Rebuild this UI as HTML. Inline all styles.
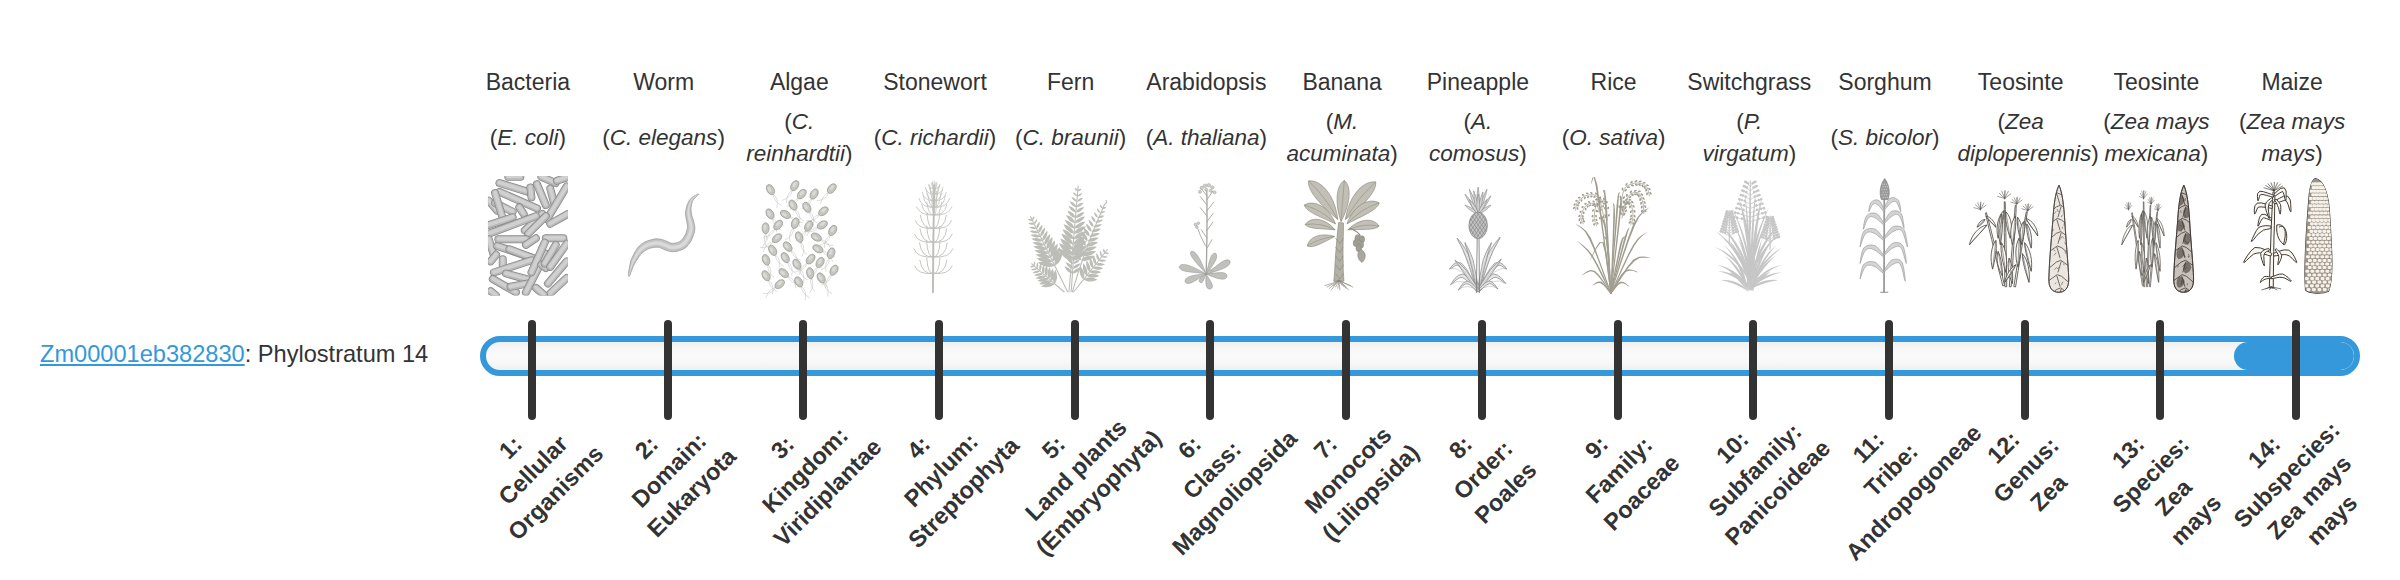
<!DOCTYPE html><html><head><meta charset="utf-8"><style>
*{margin:0;padding:0;box-sizing:border-box}
html,body{width:2400px;height:580px;background:#fff;overflow:hidden}
body{font-family:"Liberation Sans",sans-serif;color:#333;position:relative}
.cm{position:absolute;top:66px;width:200px;text-align:center;font-size:23px;line-height:32px;white-space:nowrap}
.sp{position:absolute;width:200px;text-align:center;font-size:22.5px;line-height:32px;white-space:nowrap}
.sp i{font-style:italic}
.ic{position:absolute;top:176px;width:80px;height:120px}
.bar{position:absolute;left:480px;top:336px;width:1880px;height:40px;border:6px solid #3498db;border-radius:20px;overflow:hidden;background:linear-gradient(#f0f0f0,#f7f7f7 25%,#fafafa 50%,#f7f7f7 75%,#f0f0f0)}
.fill{position:absolute;left:1748px;top:0;width:120px;height:28px;border-radius:14px;background:#3498db}
.tk{position:absolute;top:320px;width:8px;height:100px;border-radius:4px;background:#333}
.gene{position:absolute;left:40px;top:337.8px;font-size:23.6px;line-height:32px;white-space:nowrap}
.gene a{color:#3498db;text-decoration:underline}
.lb{position:absolute;width:200px;text-align:center;font-weight:bold;font-size:23.5px;line-height:32px;white-space:nowrap;transform:rotate(-45deg);transform-origin:50% 50%}
</style></head><body>
<div class="cm" style="left:427.9px">Bacteria</div>
<div class="cm" style="left:563.6px">Worm</div>
<div class="cm" style="left:699.3px">Algae</div>
<div class="cm" style="left:835.0px">Stonewort</div>
<div class="cm" style="left:970.7px">Fern</div>
<div class="cm" style="left:1106.4px">Arabidopsis</div>
<div class="cm" style="left:1242.1px">Banana</div>
<div class="cm" style="left:1377.9px">Pineapple</div>
<div class="cm" style="left:1513.6px">Rice</div>
<div class="cm" style="left:1649.3px">Switchgrass</div>
<div class="cm" style="left:1785.0px">Sorghum</div>
<div class="cm" style="left:1920.7px">Teosinte</div>
<div class="cm" style="left:2056.4px">Teosinte</div>
<div class="cm" style="left:2192.1px">Maize</div>
<div class="sp" style="left:427.9px;top:122px">(<i>E. coli</i>)</div>
<div class="sp" style="left:563.6px;top:122px">(<i>C. elegans</i>)</div>
<div class="sp" style="left:699.3px;top:106px">(<i>C.</i><br><i>reinhardtii</i>)</div>
<div class="sp" style="left:835.0px;top:122px">(<i>C. richardii</i>)</div>
<div class="sp" style="left:970.7px;top:122px">(<i>C. braunii</i>)</div>
<div class="sp" style="left:1106.4px;top:122px">(<i>A. thaliana</i>)</div>
<div class="sp" style="left:1242.1px;top:106px">(<i>M.</i><br><i>acuminata</i>)</div>
<div class="sp" style="left:1377.9px;top:106px">(<i>A.</i><br><i>comosus</i>)</div>
<div class="sp" style="left:1513.6px;top:122px">(<i>O. sativa</i>)</div>
<div class="sp" style="left:1649.3px;top:106px">(<i>P.</i><br><i>virgatum</i>)</div>
<div class="sp" style="left:1785.0px;top:122px">(<i>S. bicolor</i>)</div>
<div class="sp" style="left:1920.7px;top:106px">(<i>Zea</i></div>
<div class="sp" style="left:1957.5px;top:138px;text-align:left"><i>diploperennis</i>)</div>
<div class="sp" style="left:2056.4px;top:106px">(<i>Zea mays</i><br><i>mexicana</i>)</div>
<div class="sp" style="left:2192.1px;top:106px">(<i>Zea mays</i><br><i>mays</i>)</div>
<svg style="position:absolute;left:0;top:0" width="2400" height="580"><g transform="translate(484 172) scale(0.220690)"><defs><clipPath id="bc"><rect x="18" y="18" width="362" height="542"/></clipPath></defs><g clip-path="url(#bc)"><line x1="110" y1="22" x2="165" y2="22" stroke="#8a8a8a" stroke-width="36" stroke-linecap="round"/><line x1="110" y1="22" x2="165" y2="22" stroke="#b9b9b9" stroke-width="29" stroke-linecap="round"/><line x1="110" y1="20" x2="165" y2="20" stroke="#d0d0d0" stroke-width="17" stroke-linecap="round"/><line x1="260" y1="22" x2="325" y2="50" stroke="#8a8a8a" stroke-width="36" stroke-linecap="round"/><line x1="260" y1="22" x2="325" y2="50" stroke="#b9b9b9" stroke-width="29" stroke-linecap="round"/><line x1="260" y1="20" x2="325" y2="48" stroke="#d0d0d0" stroke-width="17" stroke-linecap="round"/><line x1="330" y1="40" x2="375" y2="25" stroke="#8a8a8a" stroke-width="36" stroke-linecap="round"/><line x1="330" y1="40" x2="375" y2="25" stroke="#b9b9b9" stroke-width="29" stroke-linecap="round"/><line x1="330" y1="38" x2="375" y2="23" stroke="#d0d0d0" stroke-width="17" stroke-linecap="round"/><line x1="22" y1="130" x2="60" y2="175" stroke="#8a8a8a" stroke-width="36" stroke-linecap="round"/><line x1="22" y1="130" x2="60" y2="175" stroke="#b9b9b9" stroke-width="29" stroke-linecap="round"/><line x1="22" y1="128" x2="60" y2="173" stroke="#d0d0d0" stroke-width="17" stroke-linecap="round"/><line x1="50" y1="140" x2="130" y2="180" stroke="#8a8a8a" stroke-width="36" stroke-linecap="round"/><line x1="50" y1="140" x2="130" y2="180" stroke="#b9b9b9" stroke-width="29" stroke-linecap="round"/><line x1="50" y1="138" x2="130" y2="178" stroke="#d0d0d0" stroke-width="17" stroke-linecap="round"/><line x1="70" y1="50" x2="200" y2="90" stroke="#8a8a8a" stroke-width="36" stroke-linecap="round"/><line x1="70" y1="50" x2="200" y2="90" stroke="#b9b9b9" stroke-width="29" stroke-linecap="round"/><line x1="70" y1="48" x2="200" y2="88" stroke="#d0d0d0" stroke-width="17" stroke-linecap="round"/><line x1="210" y1="70" x2="215" y2="115" stroke="#8a8a8a" stroke-width="36" stroke-linecap="round"/><line x1="210" y1="70" x2="215" y2="115" stroke="#b9b9b9" stroke-width="29" stroke-linecap="round"/><line x1="210" y1="68" x2="215" y2="113" stroke="#d0d0d0" stroke-width="17" stroke-linecap="round"/><line x1="70" y1="90" x2="240" y2="165" stroke="#8a8a8a" stroke-width="36" stroke-linecap="round"/><line x1="70" y1="90" x2="240" y2="165" stroke="#b9b9b9" stroke-width="29" stroke-linecap="round"/><line x1="70" y1="88" x2="240" y2="163" stroke="#d0d0d0" stroke-width="17" stroke-linecap="round"/><line x1="50" y1="95" x2="85" y2="210" stroke="#8a8a8a" stroke-width="36" stroke-linecap="round"/><line x1="50" y1="95" x2="85" y2="210" stroke="#b9b9b9" stroke-width="29" stroke-linecap="round"/><line x1="50" y1="93" x2="85" y2="208" stroke="#d0d0d0" stroke-width="17" stroke-linecap="round"/><line x1="240" y1="55" x2="280" y2="150" stroke="#8a8a8a" stroke-width="36" stroke-linecap="round"/><line x1="240" y1="55" x2="280" y2="150" stroke="#b9b9b9" stroke-width="29" stroke-linecap="round"/><line x1="240" y1="53" x2="280" y2="148" stroke="#d0d0d0" stroke-width="17" stroke-linecap="round"/><line x1="300" y1="75" x2="320" y2="150" stroke="#8a8a8a" stroke-width="36" stroke-linecap="round"/><line x1="300" y1="75" x2="320" y2="150" stroke="#b9b9b9" stroke-width="29" stroke-linecap="round"/><line x1="300" y1="73" x2="320" y2="148" stroke="#d0d0d0" stroke-width="17" stroke-linecap="round"/><line x1="160" y1="160" x2="180" y2="190" stroke="#8a8a8a" stroke-width="36" stroke-linecap="round"/><line x1="160" y1="160" x2="180" y2="190" stroke="#b9b9b9" stroke-width="29" stroke-linecap="round"/><line x1="160" y1="158" x2="180" y2="188" stroke="#d0d0d0" stroke-width="17" stroke-linecap="round"/><line x1="285" y1="215" x2="375" y2="65" stroke="#8a8a8a" stroke-width="36" stroke-linecap="round"/><line x1="285" y1="215" x2="375" y2="65" stroke="#b9b9b9" stroke-width="29" stroke-linecap="round"/><line x1="285" y1="213" x2="375" y2="63" stroke="#d0d0d0" stroke-width="17" stroke-linecap="round"/><line x1="185" y1="265" x2="265" y2="190" stroke="#8a8a8a" stroke-width="36" stroke-linecap="round"/><line x1="185" y1="265" x2="265" y2="190" stroke="#b9b9b9" stroke-width="29" stroke-linecap="round"/><line x1="185" y1="263" x2="265" y2="188" stroke="#d0d0d0" stroke-width="17" stroke-linecap="round"/><line x1="200" y1="280" x2="280" y2="200" stroke="#8a8a8a" stroke-width="36" stroke-linecap="round"/><line x1="200" y1="280" x2="280" y2="200" stroke="#b9b9b9" stroke-width="29" stroke-linecap="round"/><line x1="200" y1="278" x2="280" y2="198" stroke="#d0d0d0" stroke-width="17" stroke-linecap="round"/><line x1="22" y1="240" x2="130" y2="205" stroke="#8a8a8a" stroke-width="36" stroke-linecap="round"/><line x1="22" y1="240" x2="130" y2="205" stroke="#b9b9b9" stroke-width="29" stroke-linecap="round"/><line x1="22" y1="238" x2="130" y2="203" stroke="#d0d0d0" stroke-width="17" stroke-linecap="round"/><line x1="22" y1="280" x2="235" y2="200" stroke="#8a8a8a" stroke-width="36" stroke-linecap="round"/><line x1="22" y1="280" x2="235" y2="200" stroke="#b9b9b9" stroke-width="29" stroke-linecap="round"/><line x1="22" y1="278" x2="235" y2="198" stroke="#d0d0d0" stroke-width="17" stroke-linecap="round"/><line x1="300" y1="235" x2="380" y2="190" stroke="#8a8a8a" stroke-width="36" stroke-linecap="round"/><line x1="300" y1="235" x2="380" y2="190" stroke="#b9b9b9" stroke-width="29" stroke-linecap="round"/><line x1="300" y1="233" x2="380" y2="188" stroke="#d0d0d0" stroke-width="17" stroke-linecap="round"/><line x1="280" y1="300" x2="360" y2="300" stroke="#8a8a8a" stroke-width="36" stroke-linecap="round"/><line x1="280" y1="300" x2="360" y2="300" stroke="#b9b9b9" stroke-width="29" stroke-linecap="round"/><line x1="280" y1="298" x2="360" y2="298" stroke="#d0d0d0" stroke-width="17" stroke-linecap="round"/><line x1="22" y1="305" x2="45" y2="380" stroke="#8a8a8a" stroke-width="36" stroke-linecap="round"/><line x1="22" y1="305" x2="45" y2="380" stroke="#b9b9b9" stroke-width="29" stroke-linecap="round"/><line x1="22" y1="303" x2="45" y2="378" stroke="#d0d0d0" stroke-width="17" stroke-linecap="round"/><line x1="60" y1="335" x2="220" y2="390" stroke="#8a8a8a" stroke-width="36" stroke-linecap="round"/><line x1="60" y1="335" x2="220" y2="390" stroke="#b9b9b9" stroke-width="29" stroke-linecap="round"/><line x1="60" y1="333" x2="220" y2="388" stroke="#d0d0d0" stroke-width="17" stroke-linecap="round"/><line x1="115" y1="350" x2="220" y2="390" stroke="#8a8a8a" stroke-width="36" stroke-linecap="round"/><line x1="115" y1="350" x2="220" y2="390" stroke="#b9b9b9" stroke-width="29" stroke-linecap="round"/><line x1="115" y1="348" x2="220" y2="388" stroke="#d0d0d0" stroke-width="17" stroke-linecap="round"/><line x1="65" y1="305" x2="190" y2="305" stroke="#8a8a8a" stroke-width="36" stroke-linecap="round"/><line x1="65" y1="305" x2="190" y2="305" stroke="#b9b9b9" stroke-width="29" stroke-linecap="round"/><line x1="65" y1="303" x2="190" y2="303" stroke="#d0d0d0" stroke-width="17" stroke-linecap="round"/><line x1="30" y1="405" x2="55" y2="375" stroke="#8a8a8a" stroke-width="36" stroke-linecap="round"/><line x1="30" y1="405" x2="55" y2="375" stroke="#b9b9b9" stroke-width="29" stroke-linecap="round"/><line x1="30" y1="403" x2="55" y2="373" stroke="#d0d0d0" stroke-width="17" stroke-linecap="round"/><line x1="85" y1="395" x2="85" y2="430" stroke="#8a8a8a" stroke-width="36" stroke-linecap="round"/><line x1="85" y1="395" x2="85" y2="430" stroke="#b9b9b9" stroke-width="29" stroke-linecap="round"/><line x1="85" y1="393" x2="85" y2="428" stroke="#d0d0d0" stroke-width="17" stroke-linecap="round"/><line x1="45" y1="455" x2="215" y2="400" stroke="#8a8a8a" stroke-width="36" stroke-linecap="round"/><line x1="45" y1="455" x2="215" y2="400" stroke="#b9b9b9" stroke-width="29" stroke-linecap="round"/><line x1="45" y1="453" x2="215" y2="398" stroke="#d0d0d0" stroke-width="17" stroke-linecap="round"/><line x1="100" y1="460" x2="210" y2="490" stroke="#8a8a8a" stroke-width="36" stroke-linecap="round"/><line x1="100" y1="460" x2="210" y2="490" stroke="#b9b9b9" stroke-width="29" stroke-linecap="round"/><line x1="100" y1="458" x2="210" y2="488" stroke="#d0d0d0" stroke-width="17" stroke-linecap="round"/><line x1="40" y1="485" x2="145" y2="545" stroke="#8a8a8a" stroke-width="36" stroke-linecap="round"/><line x1="40" y1="485" x2="145" y2="545" stroke="#b9b9b9" stroke-width="29" stroke-linecap="round"/><line x1="40" y1="483" x2="145" y2="543" stroke="#d0d0d0" stroke-width="17" stroke-linecap="round"/><line x1="120" y1="520" x2="200" y2="505" stroke="#8a8a8a" stroke-width="36" stroke-linecap="round"/><line x1="120" y1="520" x2="200" y2="505" stroke="#b9b9b9" stroke-width="29" stroke-linecap="round"/><line x1="120" y1="518" x2="200" y2="503" stroke="#d0d0d0" stroke-width="17" stroke-linecap="round"/><line x1="190" y1="545" x2="280" y2="370" stroke="#8a8a8a" stroke-width="36" stroke-linecap="round"/><line x1="190" y1="545" x2="280" y2="370" stroke="#b9b9b9" stroke-width="29" stroke-linecap="round"/><line x1="190" y1="543" x2="280" y2="368" stroke="#d0d0d0" stroke-width="17" stroke-linecap="round"/><line x1="215" y1="455" x2="275" y2="320" stroke="#8a8a8a" stroke-width="36" stroke-linecap="round"/><line x1="215" y1="455" x2="275" y2="320" stroke="#b9b9b9" stroke-width="29" stroke-linecap="round"/><line x1="215" y1="453" x2="275" y2="318" stroke="#d0d0d0" stroke-width="17" stroke-linecap="round"/><line x1="260" y1="420" x2="280" y2="435" stroke="#8a8a8a" stroke-width="36" stroke-linecap="round"/><line x1="260" y1="420" x2="280" y2="435" stroke="#b9b9b9" stroke-width="29" stroke-linecap="round"/><line x1="260" y1="418" x2="280" y2="433" stroke="#d0d0d0" stroke-width="17" stroke-linecap="round"/><line x1="275" y1="415" x2="325" y2="330" stroke="#8a8a8a" stroke-width="36" stroke-linecap="round"/><line x1="275" y1="415" x2="325" y2="330" stroke="#b9b9b9" stroke-width="29" stroke-linecap="round"/><line x1="275" y1="413" x2="325" y2="328" stroke="#d0d0d0" stroke-width="17" stroke-linecap="round"/><line x1="190" y1="330" x2="235" y2="300" stroke="#8a8a8a" stroke-width="36" stroke-linecap="round"/><line x1="190" y1="330" x2="235" y2="300" stroke="#b9b9b9" stroke-width="29" stroke-linecap="round"/><line x1="190" y1="328" x2="235" y2="298" stroke="#d0d0d0" stroke-width="17" stroke-linecap="round"/><line x1="300" y1="430" x2="375" y2="325" stroke="#8a8a8a" stroke-width="36" stroke-linecap="round"/><line x1="300" y1="430" x2="375" y2="325" stroke="#b9b9b9" stroke-width="29" stroke-linecap="round"/><line x1="300" y1="428" x2="375" y2="323" stroke="#d0d0d0" stroke-width="17" stroke-linecap="round"/><line x1="290" y1="505" x2="375" y2="405" stroke="#8a8a8a" stroke-width="36" stroke-linecap="round"/><line x1="290" y1="505" x2="375" y2="405" stroke="#b9b9b9" stroke-width="29" stroke-linecap="round"/><line x1="290" y1="503" x2="375" y2="403" stroke="#d0d0d0" stroke-width="17" stroke-linecap="round"/><line x1="300" y1="550" x2="375" y2="480" stroke="#8a8a8a" stroke-width="36" stroke-linecap="round"/><line x1="300" y1="550" x2="375" y2="480" stroke="#b9b9b9" stroke-width="29" stroke-linecap="round"/><line x1="300" y1="548" x2="375" y2="478" stroke="#d0d0d0" stroke-width="17" stroke-linecap="round"/><line x1="235" y1="525" x2="270" y2="555" stroke="#8a8a8a" stroke-width="36" stroke-linecap="round"/><line x1="235" y1="525" x2="270" y2="555" stroke="#b9b9b9" stroke-width="29" stroke-linecap="round"/><line x1="235" y1="523" x2="270" y2="553" stroke="#d0d0d0" stroke-width="17" stroke-linecap="round"/><line x1="30" y1="540" x2="55" y2="560" stroke="#8a8a8a" stroke-width="36" stroke-linecap="round"/><line x1="30" y1="540" x2="55" y2="560" stroke="#b9b9b9" stroke-width="29" stroke-linecap="round"/><line x1="30" y1="538" x2="55" y2="558" stroke="#d0d0d0" stroke-width="17" stroke-linecap="round"/></g></g><g transform="translate(620 172) scale(0.220690)"><path d="M42 473 L44 469 L47 463 L49 456 L52 449 L55 441 L58 433 L61 425 L65 418 L68 411 L72 405 L76 399 L80 393 L84 387 L88 381 L92 376 L97 371 L101 366 L106 362 L110 359 L115 356 L120 353 L125 350 L130 348 L135 346 L141 344 L147 343 L153 342 L159 341 L164 341 L170 341 L174 341 L179 342 L184 344 L191 347 L197 350 L204 353 L212 356 L220 358 L229 360 L237 361 L245 361 L252 360 L260 359 L267 357 L274 355 L281 352 L287 349 L294 345 L300 341 L305 335 L311 329 L315 323 L320 316 L324 309 L327 301 L331 293 L333 285 L336 277 L338 268 L339 260 L339 251 L338 242 L336 233 L334 225 L332 217 L329 210 L327 203 L325 196 L324 190 L323 185 L323 179 L322 173 L322 168 L322 162 L323 157 L324 152 L324 147 L325 142 L327 138 L328 133 L330 130 L332 126 L335 122 L339 118 L342 115 L346 111 L349 108 L352 105 L355 103 L357 101 L355 99 L353 100 L350 102 L346 104 L342 106 L337 108 L333 111 L328 114 L324 118 L320 122 L316 127 L313 131 L310 136 L308 141 L305 147 L303 153 L302 159 L300 165 L299 171 L298 178 L297 185 L297 193 L298 201 L299 209 L301 217 L303 225 L304 232 L305 239 L306 245 L306 251 L305 256 L304 261 L302 267 L300 274 L298 280 L295 286 L292 291 L288 297 L285 301 L282 305 L279 309 L276 311 L272 314 L269 316 L265 318 L261 319 L257 321 L252 322 L248 322 L243 323 L239 323 L235 323 L230 322 L225 320 L219 317 L212 314 L205 311 L197 308 L189 306 L180 304 L170 303 L162 303 L154 304 L146 306 L138 308 L131 310 L123 313 L116 316 L109 319 L102 324 L95 328 L89 334 L83 340 L78 346 L74 353 L69 360 L65 367 L62 374 L58 381 L55 388 L52 395 L49 403 L47 412 L45 420 L43 429 L42 438 L40 446 L39 454 L39 461 L38 467 L38 471Z" fill="#c3c3c3" stroke="#8f8f8f" stroke-width="3"/><path d="M40 472 L42 468 L44 462 L46 456 L48 448 L50 440 L53 432 L56 424 L59 416 L62 408 L66 402 L69 395 L73 389 L77 383 L81 377 L85 371 L90 365 L94 360 L99 355 L104 351 L109 348 L114 344 L120 341 L126 339 L132 336 L138 334 L144 333 L151 331 L157 331 L164 330 L170 330 L176 330 L182 332 L188 334 L195 336 L202 339 L209 342 L216 345 L223 348 L230 349 L238 350 L245 350 L251 349 L258 348 L264 347 L270 345 L276 342 L282 339 L287 336 L293 332 L298 328 L302 322 L307 317 L311 310 L314 304 L318 297 L321 289 L324 282 L326 274 L328 266 L329 259 L329 251 L328 243 L327 235 L325 227 L323 219 L321 212 L319 205 L317 198 L316 191 L315 185 L315 179 L315 173 L315 167 L316 161 L317 156 L318 150 L319 145 L321 140 L322 136 L324 131 L327 127 L329 123 L333 120 L337 116 L341 113 L345 110 L348 107 L352 104 L354 102 L356 100 L356 100 L353 101 L351 103 L347 105 L343 108 L339 110 L335 113 L330 117 L326 121 L323 124 L320 129 L317 133 L315 138 L313 143 L311 148 L309 154 L308 160 L307 166 L306 172 L305 178 L305 185 L305 192 L306 200 L308 207 L309 215 L311 222 L313 230 L314 237 L315 244 L316 251 L315 257 L314 264 L312 270 L310 277 L307 284 L304 290 L301 296 L298 302 L294 308 L290 312 L286 316 L283 320 L278 323 L274 325 L270 328 L265 330 L260 331 L254 332 L249 333 L244 334 L238 334 L233 334 L227 332 L221 330 L215 328 L208 325 L201 322 L193 319 L186 316 L178 315 L170 314 L163 314 L156 315 L148 316 L141 318 L134 320 L127 322 L120 325 L113 329 L107 332 L101 336 L95 341 L90 346 L85 352 L81 358 L76 365 L72 371 L68 378 L65 385 L62 391 L58 398 L55 406 L53 414 L50 422 L48 431 L46 439 L44 447 L43 455 L41 462 L40 467 L40 472Z" fill="#dadada"/></g><g transform="translate(755 172) scale(0.220690)"><g stroke="#b4b4b0" stroke-width="2" fill="none"><path d="M81 99 Q85 134 120 152 M81 99 Q109 120 99 164"/><path d="M169 81 Q141 102 143 141 M169 81 Q165 116 122 129"/><path d="M198 117 Q166 133 161 171 M198 117 Q188 151 143 156"/><path d="M257 119 Q229 140 231 179 M257 119 Q253 154 210 167"/><path d="M334 92 Q302 108 297 146 M334 92 Q324 126 279 131"/><path d="M79 209 Q83 244 118 262 M79 209 Q107 230 97 274"/><path d="M183 169 Q187 204 222 222 M183 169 Q211 190 201 234"/><path d="M157 203 Q178 231 217 229 M157 203 Q192 207 205 250"/><path d="M246 179 Q250 214 285 232 M246 179 Q274 200 264 244"/><path d="M293 192 Q259 202 248 239 M293 192 Q277 224 233 221"/><path d="M48 277 Q34 310 55 342 M48 277 Q62 310 31 342"/><path d="M91 257 Q59 273 54 311 M91 257 Q81 291 36 296"/><path d="M174 253 Q150 278 159 316 M174 253 Q177 288 136 308"/><path d="M232 264 Q204 285 206 324 M232 264 Q228 299 185 312"/><path d="M286 251 Q251 255 233 290 M286 251 Q265 279 221 269"/><path d="M341 284 Q313 305 315 344 M341 284 Q337 319 294 332"/><path d="M83 314 Q49 324 38 361 M83 314 Q67 346 23 343"/><path d="M208 316 Q205 351 236 374 M208 316 Q232 341 214 382"/><path d="M297 306 Q318 334 357 332 M297 306 Q332 310 345 353"/><path d="M91 374 Q95 409 130 427 M91 374 Q119 395 109 439"/><path d="M162 355 Q172 389 209 400 M162 355 Q194 371 191 415"/><path d="M304 359 Q325 387 364 385 M304 359 Q339 363 352 406"/><path d="M337 389 Q313 414 322 452 M337 389 Q340 424 299 444"/><path d="M58 419 Q55 454 86 477 M58 419 Q82 444 64 485"/><path d="M148 407 Q152 442 187 460 M148 407 Q176 428 166 472"/><path d="M201 437 Q205 472 240 490 M201 437 Q229 458 219 502"/><path d="M238 412 Q206 428 201 466 M238 412 Q228 446 183 451"/><path d="M284 429 Q256 450 258 489 M284 429 Q280 464 237 477"/><path d="M347 464 Q319 485 321 524 M347 464 Q343 499 300 512"/><path d="M61 489 Q65 524 100 542 M61 489 Q89 510 79 554"/><path d="M147 472 Q163 504 201 509 M147 472 Q181 482 186 527"/><path d="M254 480 Q246 514 272 542 M254 480 Q273 509 249 547"/><path d="M311 499 Q315 534 350 552 M311 499 Q339 520 329 564"/><path d="M95 522 Q61 532 50 569 M95 522 Q79 554 35 551"/><path d="M209 517 Q213 552 248 570 M209 517 Q237 538 227 582"/></g><ellipse cx="70" cy="80" rx="16" ry="25" transform="rotate(-30 70 80)" fill="#c6c6c1" stroke="#94948f" stroke-width="3"/><ellipse cx="67" cy="76" rx="7" ry="13" transform="rotate(-30 70 80)" fill="#dadad6"/><ellipse cx="180" cy="62" rx="16" ry="25" transform="rotate(30 180 62)" fill="#c6c6c1" stroke="#94948f" stroke-width="3"/><ellipse cx="177" cy="58" rx="7" ry="13" transform="rotate(30 180 62)" fill="#dadad6"/><ellipse cx="212" cy="100" rx="16" ry="25" transform="rotate(40 212 100)" fill="#c6c6c1" stroke="#94948f" stroke-width="3"/><ellipse cx="209" cy="96" rx="7" ry="13" transform="rotate(40 212 100)" fill="#dadad6"/><ellipse cx="268" cy="100" rx="16" ry="25" transform="rotate(30 268 100)" fill="#c6c6c1" stroke="#94948f" stroke-width="3"/><ellipse cx="265" cy="96" rx="7" ry="13" transform="rotate(30 268 100)" fill="#dadad6"/><ellipse cx="348" cy="75" rx="16" ry="25" transform="rotate(40 348 75)" fill="#c6c6c1" stroke="#94948f" stroke-width="3"/><ellipse cx="345" cy="71" rx="7" ry="13" transform="rotate(40 348 75)" fill="#dadad6"/><ellipse cx="68" cy="190" rx="16" ry="25" transform="rotate(-30 68 190)" fill="#c6c6c1" stroke="#94948f" stroke-width="3"/><ellipse cx="65" cy="186" rx="7" ry="13" transform="rotate(-30 68 190)" fill="#dadad6"/><ellipse cx="172" cy="150" rx="16" ry="25" transform="rotate(-30 172 150)" fill="#c6c6c1" stroke="#94948f" stroke-width="3"/><ellipse cx="169" cy="146" rx="7" ry="13" transform="rotate(-30 172 150)" fill="#dadad6"/><ellipse cx="138" cy="192" rx="16" ry="25" transform="rotate(-60 138 192)" fill="#c6c6c1" stroke="#94948f" stroke-width="3"/><ellipse cx="135" cy="188" rx="7" ry="13" transform="rotate(-60 138 192)" fill="#dadad6"/><ellipse cx="235" cy="160" rx="16" ry="25" transform="rotate(-30 235 160)" fill="#c6c6c1" stroke="#94948f" stroke-width="3"/><ellipse cx="232" cy="156" rx="7" ry="13" transform="rotate(-30 235 160)" fill="#dadad6"/><ellipse cx="310" cy="178" rx="16" ry="25" transform="rotate(50 310 178)" fill="#c6c6c1" stroke="#94948f" stroke-width="3"/><ellipse cx="307" cy="174" rx="7" ry="13" transform="rotate(50 310 178)" fill="#dadad6"/><ellipse cx="48" cy="255" rx="16" ry="25" transform="rotate(0 48 255)" fill="#c6c6c1" stroke="#94948f" stroke-width="3"/><ellipse cx="45" cy="251" rx="7" ry="13" transform="rotate(0 48 255)" fill="#dadad6"/><ellipse cx="105" cy="240" rx="16" ry="25" transform="rotate(40 105 240)" fill="#c6c6c1" stroke="#94948f" stroke-width="3"/><ellipse cx="102" cy="236" rx="7" ry="13" transform="rotate(40 105 240)" fill="#dadad6"/><ellipse cx="182" cy="232" rx="16" ry="25" transform="rotate(20 182 232)" fill="#c6c6c1" stroke="#94948f" stroke-width="3"/><ellipse cx="179" cy="228" rx="7" ry="13" transform="rotate(20 182 232)" fill="#dadad6"/><ellipse cx="243" cy="245" rx="16" ry="25" transform="rotate(30 243 245)" fill="#c6c6c1" stroke="#94948f" stroke-width="3"/><ellipse cx="240" cy="241" rx="7" ry="13" transform="rotate(30 243 245)" fill="#dadad6"/><ellipse cx="305" cy="240" rx="16" ry="25" transform="rotate(60 305 240)" fill="#c6c6c1" stroke="#94948f" stroke-width="3"/><ellipse cx="302" cy="236" rx="7" ry="13" transform="rotate(60 305 240)" fill="#dadad6"/><ellipse cx="352" cy="265" rx="16" ry="25" transform="rotate(30 352 265)" fill="#c6c6c1" stroke="#94948f" stroke-width="3"/><ellipse cx="349" cy="261" rx="7" ry="13" transform="rotate(30 352 265)" fill="#dadad6"/><ellipse cx="100" cy="300" rx="16" ry="25" transform="rotate(50 100 300)" fill="#c6c6c1" stroke="#94948f" stroke-width="3"/><ellipse cx="97" cy="296" rx="7" ry="13" transform="rotate(50 100 300)" fill="#dadad6"/><ellipse cx="200" cy="295" rx="16" ry="25" transform="rotate(-20 200 295)" fill="#c6c6c1" stroke="#94948f" stroke-width="3"/><ellipse cx="197" cy="291" rx="7" ry="13" transform="rotate(-20 200 295)" fill="#dadad6"/><ellipse cx="278" cy="295" rx="16" ry="25" transform="rotate(-60 278 295)" fill="#c6c6c1" stroke="#94948f" stroke-width="3"/><ellipse cx="275" cy="291" rx="7" ry="13" transform="rotate(-60 278 295)" fill="#dadad6"/><ellipse cx="80" cy="355" rx="16" ry="25" transform="rotate(-30 80 355)" fill="#c6c6c1" stroke="#94948f" stroke-width="3"/><ellipse cx="77" cy="351" rx="7" ry="13" transform="rotate(-30 80 355)" fill="#dadad6"/><ellipse cx="148" cy="338" rx="16" ry="25" transform="rotate(-40 148 338)" fill="#c6c6c1" stroke="#94948f" stroke-width="3"/><ellipse cx="145" cy="334" rx="7" ry="13" transform="rotate(-40 148 338)" fill="#dadad6"/><ellipse cx="285" cy="348" rx="16" ry="25" transform="rotate(-60 285 348)" fill="#c6c6c1" stroke="#94948f" stroke-width="3"/><ellipse cx="282" cy="344" rx="7" ry="13" transform="rotate(-60 285 348)" fill="#dadad6"/><ellipse cx="345" cy="368" rx="16" ry="25" transform="rotate(20 345 368)" fill="#c6c6c1" stroke="#94948f" stroke-width="3"/><ellipse cx="342" cy="364" rx="7" ry="13" transform="rotate(20 345 368)" fill="#dadad6"/><ellipse cx="50" cy="398" rx="16" ry="25" transform="rotate(-20 50 398)" fill="#c6c6c1" stroke="#94948f" stroke-width="3"/><ellipse cx="47" cy="394" rx="7" ry="13" transform="rotate(-20 50 398)" fill="#dadad6"/><ellipse cx="137" cy="388" rx="16" ry="25" transform="rotate(-30 137 388)" fill="#c6c6c1" stroke="#94948f" stroke-width="3"/><ellipse cx="134" cy="384" rx="7" ry="13" transform="rotate(-30 137 388)" fill="#dadad6"/><ellipse cx="190" cy="418" rx="16" ry="25" transform="rotate(-30 190 418)" fill="#c6c6c1" stroke="#94948f" stroke-width="3"/><ellipse cx="187" cy="414" rx="7" ry="13" transform="rotate(-30 190 418)" fill="#dadad6"/><ellipse cx="252" cy="395" rx="16" ry="25" transform="rotate(40 252 395)" fill="#c6c6c1" stroke="#94948f" stroke-width="3"/><ellipse cx="249" cy="391" rx="7" ry="13" transform="rotate(40 252 395)" fill="#dadad6"/><ellipse cx="295" cy="410" rx="16" ry="25" transform="rotate(30 295 410)" fill="#c6c6c1" stroke="#94948f" stroke-width="3"/><ellipse cx="292" cy="406" rx="7" ry="13" transform="rotate(30 295 410)" fill="#dadad6"/><ellipse cx="358" cy="445" rx="16" ry="25" transform="rotate(30 358 445)" fill="#c6c6c1" stroke="#94948f" stroke-width="3"/><ellipse cx="355" cy="441" rx="7" ry="13" transform="rotate(30 358 445)" fill="#dadad6"/><ellipse cx="50" cy="470" rx="16" ry="25" transform="rotate(-30 50 470)" fill="#c6c6c1" stroke="#94948f" stroke-width="3"/><ellipse cx="47" cy="466" rx="7" ry="13" transform="rotate(-30 50 470)" fill="#dadad6"/><ellipse cx="130" cy="458" rx="16" ry="25" transform="rotate(-50 130 458)" fill="#c6c6c1" stroke="#94948f" stroke-width="3"/><ellipse cx="127" cy="454" rx="7" ry="13" transform="rotate(-50 130 458)" fill="#dadad6"/><ellipse cx="250" cy="458" rx="16" ry="25" transform="rotate(-10 250 458)" fill="#c6c6c1" stroke="#94948f" stroke-width="3"/><ellipse cx="247" cy="454" rx="7" ry="13" transform="rotate(-10 250 458)" fill="#dadad6"/><ellipse cx="300" cy="480" rx="16" ry="25" transform="rotate(-30 300 480)" fill="#c6c6c1" stroke="#94948f" stroke-width="3"/><ellipse cx="297" cy="476" rx="7" ry="13" transform="rotate(-30 300 480)" fill="#dadad6"/><ellipse cx="112" cy="508" rx="16" ry="25" transform="rotate(50 112 508)" fill="#c6c6c1" stroke="#94948f" stroke-width="3"/><ellipse cx="109" cy="504" rx="7" ry="13" transform="rotate(50 112 508)" fill="#dadad6"/><ellipse cx="198" cy="498" rx="16" ry="25" transform="rotate(-30 198 498)" fill="#c6c6c1" stroke="#94948f" stroke-width="3"/><ellipse cx="195" cy="494" rx="7" ry="13" transform="rotate(-30 198 498)" fill="#dadad6"/></g><g transform="translate(891 172) scale(0.220690)"><g stroke="#bebeba" fill="none" stroke-linecap="round"><path d="M190 545 L192 300 L196 60" stroke-width="9"/><path d="M192 460 Q120 466 107 425" stroke-width="4"/><path d="M192 460 Q140 466 131 400" stroke-width="4"/><path d="M192 460 Q167 466 162 390" stroke-width="4"/><path d="M192 460 Q217 466 222 390" stroke-width="4"/><path d="M192 460 Q244 466 253 400" stroke-width="4"/><path d="M192 460 Q264 466 277 425" stroke-width="4"/><path d="M192 385 Q117 391 104 348" stroke-width="4"/><path d="M192 385 Q138 391 129 321" stroke-width="4"/><path d="M192 385 Q166 391 161 310" stroke-width="4"/><path d="M192 385 Q218 391 223 310" stroke-width="4"/><path d="M192 385 Q246 391 255 321" stroke-width="4"/><path d="M192 385 Q267 391 280 348" stroke-width="4"/><path d="M192 318 Q120 324 107 282" stroke-width="4"/><path d="M192 318 Q140 324 131 257" stroke-width="4"/><path d="M192 318 Q167 324 162 246" stroke-width="4"/><path d="M192 318 Q217 324 222 246" stroke-width="4"/><path d="M192 318 Q244 324 253 257" stroke-width="4"/><path d="M192 318 Q264 324 277 282" stroke-width="4"/><path d="M192 255 Q122 261 110 220" stroke-width="4"/><path d="M192 255 Q142 261 133 196" stroke-width="4"/><path d="M192 255 Q168 261 163 185" stroke-width="4"/><path d="M192 255 Q216 261 221 185" stroke-width="4"/><path d="M192 255 Q242 261 251 196" stroke-width="4"/><path d="M192 255 Q262 261 274 220" stroke-width="4"/><path d="M196 195 Q132 199 116 158" stroke-width="3.5"/><path d="M196 195 Q150 199 139 147" stroke-width="3.5"/><path d="M196 195 Q169 199 162 136" stroke-width="3.5"/><path d="M196 195 Q187 199 185 125" stroke-width="3.5"/><path d="M196 195 Q205 199 207 125" stroke-width="3.5"/><path d="M196 195 Q223 199 230 136" stroke-width="3.5"/><path d="M196 195 Q242 199 253 147" stroke-width="3.5"/><path d="M196 195 Q260 199 276 158" stroke-width="3.5"/><path d="M196 160 Q140 164 126 120" stroke-width="3.5"/><path d="M196 160 Q156 164 146 109" stroke-width="3.5"/><path d="M196 160 Q172 164 166 97" stroke-width="3.5"/><path d="M196 160 Q188 164 186 86" stroke-width="3.5"/><path d="M196 160 Q204 164 206 86" stroke-width="3.5"/><path d="M196 160 Q220 164 226 97" stroke-width="3.5"/><path d="M196 160 Q236 164 246 109" stroke-width="3.5"/><path d="M196 160 Q252 164 266 120" stroke-width="3.5"/><path d="M196 130 Q152 134 141 92" stroke-width="3.5"/><path d="M196 130 Q167 134 159 80" stroke-width="3.5"/><path d="M196 130 Q181 134 178 68" stroke-width="3.5"/><path d="M196 130 Q196 134 196 55" stroke-width="3.5"/><path d="M196 130 Q211 134 214 68" stroke-width="3.5"/><path d="M196 130 Q225 134 233 80" stroke-width="3.5"/><path d="M196 130 Q240 134 251 92" stroke-width="3.5"/><path d="M196 100 Q164 104 156 70" stroke-width="3.5"/><path d="M196 100 Q177 104 172 58" stroke-width="3.5"/><path d="M196 100 Q190 104 188 46" stroke-width="3.5"/><path d="M196 100 Q202 104 204 46" stroke-width="3.5"/><path d="M196 100 Q215 104 220 58" stroke-width="3.5"/><path d="M196 100 Q228 104 236 70" stroke-width="3.5"/><path d="M196 75 Q176 79 171 58" stroke-width="3.5"/><path d="M196 75 Q186 79 184 49" stroke-width="3.5"/><path d="M196 75 Q196 79 196 40" stroke-width="3.5"/><path d="M196 75 Q206 79 208 49" stroke-width="3.5"/><path d="M196 75 Q216 79 221 58" stroke-width="3.5"/></g></g><g transform="translate(1027 172) scale(0.220690)"><path d="M185 545 Q100 372 15 200" stroke="#bdbdb8" stroke-width="5" fill="none"/><path d="M126 424 C150 415 162 381 161 355 C139 370 119 399 126 424Z" fill="#bdbdb8"/><path d="M126 424 C110 403 74 402 49 410 C69 427 103 438 126 424Z" fill="#bdbdb8"/><path d="M116 406 C139 397 151 365 150 340 C129 354 110 382 116 406Z" fill="#bdbdb8"/><path d="M116 406 C101 386 68 384 44 392 C63 408 95 418 116 406Z" fill="#bdbdb8"/><path d="M107 387 C129 378 139 349 139 325 C119 338 101 364 107 387Z" fill="#bdbdb8"/><path d="M107 387 C93 368 61 367 39 374 C57 389 87 399 107 387Z" fill="#bdbdb8"/><path d="M98 368 C118 360 128 332 127 310 C109 323 92 347 98 368Z" fill="#bdbdb8"/><path d="M98 368 C85 351 55 349 34 356 C51 370 79 380 98 368Z" fill="#bdbdb8"/><path d="M89 350 C108 342 117 316 116 295 C99 307 83 330 89 350Z" fill="#bdbdb8"/><path d="M89 350 C76 333 49 332 29 338 C45 351 71 360 89 350Z" fill="#bdbdb8"/><path d="M79 331 C97 324 105 300 105 281 C89 292 75 313 79 331Z" fill="#bdbdb8"/><path d="M79 331 C68 316 43 314 24 320 C39 333 63 341 79 331Z" fill="#bdbdb8"/><path d="M70 312 C86 306 94 284 93 267 C79 276 66 296 70 312Z" fill="#bdbdb8"/><path d="M70 312 C60 298 37 297 20 303 C34 314 56 321 70 312Z" fill="#bdbdb8"/><path d="M61 293 C75 288 82 268 82 252 C69 261 57 279 61 293Z" fill="#bdbdb8"/><path d="M61 293 C52 281 31 280 16 285 C28 295 48 301 61 293Z" fill="#bdbdb8"/><path d="M52 275 C65 270 71 253 70 239 C59 246 48 262 52 275Z" fill="#bdbdb8"/><path d="M52 275 C44 264 25 263 12 267 C23 276 40 282 52 275Z" fill="#bdbdb8"/><path d="M43 256 C53 252 59 237 58 225 C48 232 40 245 43 256Z" fill="#bdbdb8"/><path d="M43 256 C36 247 20 246 9 250 C18 257 33 262 43 256Z" fill="#bdbdb8"/><path d="M33 237 C42 234 46 222 46 212 C38 218 31 228 33 237Z" fill="#bdbdb8"/><path d="M33 237 C28 230 15 229 6 232 C13 238 25 242 33 237Z" fill="#bdbdb8"/><path d="M24 219 C32 217 35 208 33 201 C27 204 21 211 24 219Z" fill="#bdbdb8"/><path d="M24 219 C20 212 11 212 4 215 C9 220 18 224 24 219Z" fill="#bdbdb8"/><path d="M170 545 Q95 480 20 415" stroke="#bdbdb8" stroke-width="5" fill="none"/><path d="M125 506 C140 491 138 463 129 443 C118 461 112 489 125 506Z" fill="#bdbdb8"/><path d="M125 506 C107 495 80 505 63 519 C84 525 113 523 125 506Z" fill="#bdbdb8"/><path d="M112 495 C126 481 124 455 116 437 C105 453 100 479 112 495Z" fill="#bdbdb8"/><path d="M112 495 C95 485 70 494 55 507 C74 513 100 510 112 495Z" fill="#bdbdb8"/><path d="M99 483 C112 471 110 447 102 430 C93 446 88 469 99 483Z" fill="#bdbdb8"/><path d="M99 483 C83 474 61 483 47 494 C64 500 88 498 99 483Z" fill="#bdbdb8"/><path d="M86 472 C97 461 96 439 89 424 C80 438 76 459 86 472Z" fill="#bdbdb8"/><path d="M86 472 C72 464 51 471 39 482 C55 487 76 485 86 472Z" fill="#bdbdb8"/><path d="M73 460 C83 451 81 432 75 419 C68 431 64 449 73 460Z" fill="#bdbdb8"/><path d="M73 460 C60 454 42 460 32 469 C45 473 64 472 73 460Z" fill="#bdbdb8"/><path d="M59 449 C68 441 67 425 62 414 C55 424 52 440 59 449Z" fill="#bdbdb8"/><path d="M59 449 C49 443 34 449 25 457 C36 460 52 459 59 449Z" fill="#bdbdb8"/><path d="M46 438 C53 431 52 418 48 409 C43 417 40 430 46 438Z" fill="#bdbdb8"/><path d="M46 438 C38 433 26 437 18 444 C28 447 41 446 46 438Z" fill="#bdbdb8"/><path d="M33 426 C39 422 39 412 35 406 C30 412 28 421 33 426Z" fill="#bdbdb8"/><path d="M33 426 C27 422 18 425 13 431 C20 434 29 433 33 426Z" fill="#bdbdb8"/><path d="M210 545 Q288 448 365 350" stroke="#bdbdb8" stroke-width="5" fill="none"/><path d="M256 486 C272 501 300 498 319 488 C301 477 273 473 256 486Z" fill="#bdbdb8"/><path d="M256 486 C266 468 255 441 241 426 C235 446 239 475 256 486Z" fill="#bdbdb8"/><path d="M270 469 C284 483 310 480 328 471 C311 461 285 457 270 469Z" fill="#bdbdb8"/><path d="M270 469 C279 452 269 428 255 413 C251 433 254 459 270 469Z" fill="#bdbdb8"/><path d="M284 452 C297 465 320 462 337 454 C321 445 297 441 284 452Z" fill="#bdbdb8"/><path d="M284 452 C292 437 283 414 270 401 C266 419 269 443 284 452Z" fill="#bdbdb8"/><path d="M297 435 C309 446 330 444 345 437 C331 428 309 425 297 435Z" fill="#bdbdb8"/><path d="M297 435 C305 421 296 401 285 389 C281 405 284 427 297 435Z" fill="#bdbdb8"/><path d="M311 418 C321 428 340 426 353 419 C340 412 321 409 311 418Z" fill="#bdbdb8"/><path d="M311 418 C317 406 310 388 300 378 C297 392 299 411 311 418Z" fill="#bdbdb8"/><path d="M324 401 C333 409 349 408 360 402 C349 396 333 393 324 401Z" fill="#bdbdb8"/><path d="M324 401 C330 391 324 376 315 367 C312 379 314 395 324 401Z" fill="#bdbdb8"/><path d="M338 384 C345 391 358 389 367 385 C358 380 345 378 338 384Z" fill="#bdbdb8"/><path d="M338 384 C342 376 337 363 331 356 C328 366 330 379 338 384Z" fill="#bdbdb8"/><path d="M351 367 C356 373 366 372 372 368 C366 363 357 361 351 367Z" fill="#bdbdb8"/><path d="M351 367 C356 361 352 352 346 347 C343 354 344 364 351 367Z" fill="#bdbdb8"/><path d="M205 545 Q264 340 352 145" stroke="#bdbdb8" stroke-width="5" fill="none"/><path d="M244 400 C264 410 292 397 309 381 C286 376 256 381 244 400Z" fill="#bdbdb8"/><path d="M244 400 C247 378 227 354 207 343 C208 366 222 394 244 400Z" fill="#bdbdb8"/><path d="M251 378 C270 388 297 376 313 360 C291 355 262 360 251 378Z" fill="#bdbdb8"/><path d="M251 378 C254 357 235 335 216 324 C217 346 230 373 251 378Z" fill="#bdbdb8"/><path d="M258 357 C277 365 302 354 317 339 C296 335 269 339 258 357Z" fill="#bdbdb8"/><path d="M258 357 C262 336 244 315 225 306 C227 326 239 351 258 357Z" fill="#bdbdb8"/><path d="M266 335 C284 343 307 332 321 318 C302 314 276 318 266 335Z" fill="#bdbdb8"/><path d="M266 335 C269 316 252 296 235 287 C237 306 248 330 266 335Z" fill="#bdbdb8"/><path d="M274 313 C291 321 313 311 325 298 C308 294 284 298 274 313Z" fill="#bdbdb8"/><path d="M274 313 C277 296 262 277 246 269 C247 287 257 309 274 313Z" fill="#bdbdb8"/><path d="M283 292 C298 299 318 290 330 278 C314 274 292 278 283 292Z" fill="#bdbdb8"/><path d="M283 292 C286 275 271 259 256 251 C257 267 267 287 283 292Z" fill="#bdbdb8"/><path d="M292 270 C306 277 324 269 335 258 C320 254 300 258 292 270Z" fill="#bdbdb8"/><path d="M292 270 C294 256 281 240 267 233 C269 248 277 267 292 270Z" fill="#bdbdb8"/><path d="M301 249 C313 255 330 248 340 238 C326 235 308 238 301 249Z" fill="#bdbdb8"/><path d="M301 249 C303 236 291 222 279 215 C280 229 288 246 301 249Z" fill="#bdbdb8"/><path d="M311 228 C321 233 336 227 345 218 C333 215 317 218 311 228Z" fill="#bdbdb8"/><path d="M311 228 C312 216 302 204 291 198 C292 210 299 225 311 228Z" fill="#bdbdb8"/><path d="M320 207 C330 212 343 206 350 198 C340 196 326 198 320 207Z" fill="#bdbdb8"/><path d="M320 207 C322 197 313 186 304 181 C304 192 310 204 320 207Z" fill="#bdbdb8"/><path d="M331 186 C338 190 349 185 355 179 C346 177 335 179 331 186Z" fill="#bdbdb8"/><path d="M331 186 C332 178 325 169 317 165 C317 174 322 184 331 186Z" fill="#bdbdb8"/><path d="M341 166 C347 170 355 166 359 160 C352 158 344 159 341 166Z" fill="#bdbdb8"/><path d="M341 166 C344 158 338 152 331 150 C330 157 334 165 341 166Z" fill="#bdbdb8"/><path d="M190 545 Q211 304 232 62" stroke="#bdbdb8" stroke-width="5" fill="none"/><path d="M203 400 C230 405 259 381 273 356 C245 358 210 373 203 400Z" fill="#bdbdb8"/><path d="M203 400 C200 372 168 351 141 345 C150 372 175 400 203 400Z" fill="#bdbdb8"/><path d="M205 376 C231 381 259 358 272 334 C245 336 212 350 205 376Z" fill="#bdbdb8"/><path d="M205 376 C202 349 172 329 146 323 C155 349 178 376 205 376Z" fill="#bdbdb8"/><path d="M207 352 C232 356 258 334 271 312 C245 313 214 327 207 352Z" fill="#bdbdb8"/><path d="M207 352 C204 327 176 307 151 302 C159 326 181 352 207 352Z" fill="#bdbdb8"/><path d="M209 328 C233 332 258 311 269 290 C245 291 216 305 209 328Z" fill="#bdbdb8"/><path d="M209 328 C206 304 180 286 156 280 C164 303 185 328 209 328Z" fill="#bdbdb8"/><path d="M211 304 C233 307 257 288 268 268 C245 269 217 282 211 304Z" fill="#bdbdb8"/><path d="M211 304 C209 281 183 264 161 259 C169 280 188 304 211 304Z" fill="#bdbdb8"/><path d="M213 279 C234 283 256 265 267 246 C245 247 219 259 213 279Z" fill="#bdbdb8"/><path d="M213 279 C211 258 187 242 166 237 C173 258 192 279 213 279Z" fill="#bdbdb8"/><path d="M215 255 C235 259 255 242 265 224 C245 225 221 236 215 255Z" fill="#bdbdb8"/><path d="M215 255 C213 236 191 221 171 216 C178 235 195 255 215 255Z" fill="#bdbdb8"/><path d="M217 231 C235 234 254 219 263 202 C245 203 222 214 217 231Z" fill="#bdbdb8"/><path d="M217 231 C215 213 195 199 177 195 C183 212 199 231 217 231Z" fill="#bdbdb8"/><path d="M219 207 C236 210 253 196 261 181 C244 182 224 191 219 207Z" fill="#bdbdb8"/><path d="M219 207 C218 190 199 178 183 174 C188 190 203 207 219 207Z" fill="#bdbdb8"/><path d="M222 183 C236 185 252 173 259 159 C244 160 226 168 222 183Z" fill="#bdbdb8"/><path d="M222 183 C220 168 203 157 188 153 C193 167 207 183 222 183Z" fill="#bdbdb8"/><path d="M224 159 C237 161 250 150 257 138 C243 139 227 146 224 159Z" fill="#bdbdb8"/><path d="M224 159 C222 145 207 135 194 132 C199 145 210 159 224 159Z" fill="#bdbdb8"/><path d="M226 134 C237 136 249 127 254 117 C243 117 229 124 226 134Z" fill="#bdbdb8"/><path d="M226 134 C224 123 212 115 201 112 C205 123 214 134 226 134Z" fill="#bdbdb8"/><path d="M228 110 C237 112 246 104 251 96 C242 96 230 102 228 110Z" fill="#bdbdb8"/><path d="M228 110 C227 101 217 94 208 92 C211 101 219 110 228 110Z" fill="#bdbdb8"/><path d="M230 86 C237 89 244 83 247 76 C239 75 231 78 230 86Z" fill="#bdbdb8"/><path d="M230 86 C230 78 222 74 215 73 C217 80 222 87 230 86Z" fill="#bdbdb8"/><path d="M200 545 Q208 438 215 330" stroke="#bdbdb8" stroke-width="5" fill="none"/><path d="M206 459 C222 462 239 447 246 433 C230 434 210 443 206 459Z" fill="#bdbdb8"/><path d="M206 459 C204 443 186 431 170 428 C175 443 190 459 206 459Z" fill="#bdbdb8"/><path d="M208 438 C222 440 237 427 244 414 C229 415 211 423 208 438Z" fill="#bdbdb8"/><path d="M208 438 C206 423 189 412 175 409 C180 423 193 438 208 438Z" fill="#bdbdb8"/><path d="M209 416 C222 418 235 407 241 395 C228 396 212 404 209 416Z" fill="#bdbdb8"/><path d="M209 416 C207 403 193 394 180 391 C185 403 196 416 209 416Z" fill="#bdbdb8"/><path d="M210 394 C221 396 233 387 238 377 C227 378 213 384 210 394Z" fill="#bdbdb8"/><path d="M210 394 C209 384 197 375 186 373 C190 384 200 395 210 394Z" fill="#bdbdb8"/><path d="M212 373 C221 374 230 367 234 359 C225 359 214 364 212 373Z" fill="#bdbdb8"/><path d="M212 373 C211 364 201 358 192 356 C195 364 203 373 212 373Z" fill="#bdbdb8"/><path d="M214 352 C221 354 227 348 230 341 C223 340 214 344 214 352Z" fill="#bdbdb8"/><path d="M214 352 C214 344 206 339 199 339 C200 346 206 353 214 352Z" fill="#bdbdb8"/><path d="M352 145 q15 -8 5 -18" stroke="#bdbdb8" stroke-width="5" fill="none"/></g><g transform="translate(1162 172) scale(0.220690)"><g stroke="#a4a4a0" fill="none" stroke-linecap="round"><path d="M200 460 Q206 260 203 85" stroke-width="6"/><path d="M197 335 Q170 285 158 245" stroke-width="4"/><path d="M204 110 L176 72" stroke-width="4"/><path d="M204 125 L230 87" stroke-width="4"/><path d="M204 150 L174 112" stroke-width="4"/><path d="M204 175 L234 137" stroke-width="4"/><path d="M204 200 L174 162" stroke-width="4"/><path d="M204 225 L232 187" stroke-width="4"/><path d="M204 265 L230 227" stroke-width="4"/><path d="M204 300 L178 262" stroke-width="4"/><path d="M204 345 L226 307" stroke-width="4"/></g><g fill="#cfcfcb" stroke="#979793" stroke-width="2"><circle cx="180" cy="72" r="8"/><circle cx="195" cy="62" r="8"/><circle cx="212" cy="60" r="8"/><circle cx="228" cy="70" r="8"/><circle cx="238" cy="92" r="7"/><circle cx="172" cy="90" r="7"/><circle cx="200" cy="80" r="7"/><circle cx="220" cy="85" r="7"/><circle cx="152" cy="238" r="7"/><circle cx="165" cy="232" r="6"/><circle cx="158" cy="250" r="6"/></g><path d="M200 462 C149 433 92 403 78 428 C77 455 143 453 200 462Z" fill="#c0c0bc" stroke="#979793" stroke-width="2.5"/><path d="M200 462 C152 466 100 470 105 498 C119 521 160 485 200 462Z" fill="#c0c0bc" stroke="#979793" stroke-width="2.5"/><path d="M200 462 C180 409 155 352 132 360 C117 378 165 419 200 462Z" fill="#c0c0bc" stroke="#979793" stroke-width="2.5"/><path d="M200 462 C181 475 160 488 172 500 C186 508 191 482 200 462Z" fill="#c0c0bc" stroke="#979793" stroke-width="2.5"/><path d="M200 462 C198 496 194 534 220 530 C243 520 216 490 200 462Z" fill="#c0c0bc" stroke="#979793" stroke-width="2.5"/><path d="M200 462 C230 425 262 382 242 368 C219 363 213 417 200 462Z" fill="#c0c0bc" stroke="#979793" stroke-width="2.5"/><path d="M200 462 C255 448 316 430 308 403 C290 383 245 429 200 462Z" fill="#c0c0bc" stroke="#979793" stroke-width="2.5"/><path d="M200 462 C241 480 287 499 295 472 C293 445 244 459 200 462Z" fill="#c0c0bc" stroke="#979793" stroke-width="2.5"/><path d="M200 462 C215 459 231 456 225 445 C217 436 209 451 200 462Z" fill="#c0c0bc" stroke="#979793" stroke-width="2.5"/></g><g transform="translate(1298 172) scale(0.220690)"><path d="M180 215 C169 113 110 35 48 40 C40 87 112 157 180 215Z" fill="#c2c0b6" stroke="#8c897e" stroke-width="3"/><path d="M180 215 Q128 117 48 40" stroke="#8c897e" stroke-width="2.5" fill="none"/><path d="M215 215 C285 159 358 92 352 45 C291 38 229 114 215 215Z" fill="#c2c0b6" stroke="#8c897e" stroke-width="3"/><path d="M215 215 Q270 119 352 45" stroke="#8c897e" stroke-width="2.5" fill="none"/><path d="M195 225 C233 153 247 69 210 38 C169 63 169 148 195 225Z" fill="#c2c0b6" stroke="#8c897e" stroke-width="3"/><path d="M195 225 Q202 132 210 38" stroke="#8c897e" stroke-width="2.5" fill="none"/><path d="M170 235 C139 157 73 123 28 150 C38 182 110 206 170 235Z" fill="#c2c0b6" stroke="#8c897e" stroke-width="3"/><path d="M170 235 Q111 173 28 150" stroke="#8c897e" stroke-width="2.5" fill="none"/><path d="M222 235 C284 202 359 174 368 140 C320 114 251 152 222 235Z" fill="#c2c0b6" stroke="#8c897e" stroke-width="3"/><path d="M222 235 Q282 167 368 140" stroke="#8c897e" stroke-width="2.5" fill="none"/><path d="M168 262 C122 207 60 201 32 238 C49 260 113 256 168 262Z" fill="#c2c0b6" stroke="#8c897e" stroke-width="3"/><path d="M168 262 Q104 228 32 238" stroke="#8c897e" stroke-width="2.5" fill="none"/><path d="M226 262 C283 258 349 266 368 245 C342 206 277 209 226 262Z" fill="#c2c0b6" stroke="#8c897e" stroke-width="3"/><path d="M226 262 Q294 231 368 245" stroke="#8c897e" stroke-width="2.5" fill="none"/><path d="M166 292 C104 273 49 294 42 335 C67 348 119 317 166 292Z" fill="#c2c0b6" stroke="#8c897e" stroke-width="3"/><path d="M166 292 Q99 299 42 335" stroke="#8c897e" stroke-width="2.5" fill="none"/><path d="M208 495 L207 475 L205 447 L205 414 L204 381 L204 342 L205 299 L206 258 L206 231 L184 229 L181 257 L177 297 L173 341 L170 379 L168 413 L166 447 L164 475 L162 495Z" fill="#b3b1a6" stroke="#8c897e" stroke-width="3"/><g stroke="#8c897e" stroke-width="3" fill="none"><path d="M170 300 L190 325 L205 300"/><path d="M170 340 L190 365 L205 340"/><path d="M170 380 L190 405 L205 380"/><path d="M170 420 L190 445 L205 420"/><path d="M170 460 L190 485 L205 460"/><path d="M185 490 Q160 505 120 515"/><path d="M185 490 Q164 505 130 522"/><path d="M185 490 Q168 505 140 529"/><path d="M185 490 Q172 505 150 536"/><path d="M185 490 Q176 505 160 515"/><path d="M185 490 Q180 505 170 522"/><path d="M185 490 Q184 505 180 529"/><path d="M185 490 Q188 505 190 536"/><path d="M185 490 Q192 505 200 515"/><path d="M185 490 Q196 505 210 522"/><path d="M185 490 Q200 505 220 529"/><path d="M185 490 Q204 505 230 536"/><path d="M185 490 Q208 505 240 515"/><path d="M185 490 Q212 505 250 522"/></g><path d="M235 255 Q275 270 282 290" stroke="#8c897e" stroke-width="5" fill="none"/><ellipse cx="270" cy="300" rx="12" ry="16" fill="#a19f94" stroke="#8c897e" stroke-width="2.5"/><ellipse cx="290" cy="305" rx="12" ry="16" fill="#a19f94" stroke="#8c897e" stroke-width="2.5"/><ellipse cx="262" cy="322" rx="12" ry="16" fill="#a19f94" stroke="#8c897e" stroke-width="2.5"/><ellipse cx="285" cy="330" rx="12" ry="16" fill="#a19f94" stroke="#8c897e" stroke-width="2.5"/><ellipse cx="275" cy="345" rx="12" ry="16" fill="#a19f94" stroke="#8c897e" stroke-width="2.5"/><path d="M285 350 C262 365 270 398 290 410 C308 395 312 365 285 350Z" fill="#aaa89e" stroke="#8c897e" stroke-width="3"/></g><g transform="translate(1434 172) scale(0.220690)"><path d="M205 539 L196 508 L184 463 L170 416 L157 377 L143 350 L128 328 L115 311 L105 300 L105 300 L111 314 L121 332 L132 355 L143 383 L156 420 L172 467 L186 511 L195 541Z" fill="#e4e4e4" stroke="#7f7f7f" stroke-width="3"/><path d="M200 540 Q150 380 105 300" stroke="#a0a0a0" stroke-width="2" fill="none"/><path d="M205 541 L214 511 L228 467 L243 421 L257 383 L269 354 L282 330 L293 310 L300 295 L300 295 L289 307 L275 325 L258 349 L243 377 L229 416 L216 463 L204 508 L195 539Z" fill="#e4e4e4" stroke="#7f7f7f" stroke-width="3"/><path d="M200 540 Q250 380 300 295" stroke="#a0a0a0" stroke-width="2" fill="none"/><path d="M205 537 L190 512 L169 475 L146 438 L125 413 L104 409 L87 419 L77 431 L70 440 L70 440 L80 435 L93 426 L105 422 L115 427 L133 448 L157 483 L180 518 L195 543Z" fill="#e4e4e4" stroke="#7f7f7f" stroke-width="3"/><path d="M200 540 Q120 420 70 440" stroke="#a0a0a0" stroke-width="2" fill="none"/><path d="M205 543 L220 518 L243 483 L267 448 L285 427 L295 422 L307 426 L320 435 L330 440 L330 440 L323 431 L313 419 L296 409 L275 413 L254 438 L231 475 L210 512 L195 537Z" fill="#e4e4e4" stroke="#7f7f7f" stroke-width="3"/><path d="M200 540 Q280 420 330 440" stroke="#a0a0a0" stroke-width="2" fill="none"/><path d="M204 537 L191 521 L173 498 L153 476 L132 462 L111 468 L95 482 L83 499 L75 510 L75 510 L86 502 L101 489 L117 479 L128 478 L143 487 L164 507 L183 528 L196 543Z" fill="#e4e4e4" stroke="#7f7f7f" stroke-width="3"/><path d="M200 540 Q130 470 75 510" stroke="#a0a0a0" stroke-width="2" fill="none"/><path d="M204 543 L217 529 L236 507 L257 487 L272 478 L284 478 L299 486 L314 498 L325 505 L325 505 L317 495 L305 480 L288 467 L268 462 L247 476 L227 499 L209 521 L196 537Z" fill="#e4e4e4" stroke="#7f7f7f" stroke-width="3"/><path d="M200 540 Q270 470 325 505" stroke="#a0a0a0" stroke-width="2" fill="none"/><path d="M204 539 L199 512 L192 474 L184 433 L177 398 L167 372 L157 350 L147 332 L140 320 L140 320 L143 334 L150 353 L157 376 L163 402 L172 435 L181 476 L190 514 L196 541Z" fill="#e4e4e4" stroke="#7f7f7f" stroke-width="3"/><path d="M200 540 Q170 400 140 320" stroke="#a0a0a0" stroke-width="2" fill="none"/><path d="M204 541 L210 514 L219 476 L228 435 L237 402 L243 376 L250 353 L257 334 L260 320 L260 320 L253 332 L243 350 L233 372 L223 398 L216 433 L208 474 L201 512 L196 539Z" fill="#e4e4e4" stroke="#7f7f7f" stroke-width="3"/><path d="M200 540 Q230 400 260 320" stroke="#a0a0a0" stroke-width="2" fill="none"/><path d="M204 537 L194 520 L178 495 L161 468 L146 445 L131 430 L117 416 L104 406 L95 400 L95 400 L101 410 L111 422 L122 438 L134 455 L149 476 L167 502 L184 526 L196 543Z" fill="#e4e4e4" stroke="#7f7f7f" stroke-width="3"/><path d="M200 540 Q140 450 95 400" stroke="#a0a0a0" stroke-width="2" fill="none"/><path d="M204 543 L216 526 L233 502 L251 476 L266 455 L278 436 L290 420 L299 406 L305 395 L305 395 L295 403 L283 414 L269 429 L254 445 L239 468 L222 495 L206 520 L196 537Z" fill="#e4e4e4" stroke="#7f7f7f" stroke-width="3"/><path d="M200 540 Q260 450 305 395" stroke="#a0a0a0" stroke-width="2" fill="none"/><path d="M203 537 L194 528 L181 514 L166 501 L150 494 L136 500 L125 513 L116 526 L110 535 L110 535 L118 528 L129 517 L141 508 L150 506 L160 510 L174 521 L188 534 L197 543Z" fill="#e4e4e4" stroke="#7f7f7f" stroke-width="3"/><path d="M200 540 Q150 500 110 535" stroke="#a0a0a0" stroke-width="2" fill="none"/><path d="M202 543 L212 534 L226 522 L240 511 L251 506 L259 507 L271 515 L282 524 L290 530 L290 530 L284 522 L275 510 L264 499 L249 494 L234 502 L219 515 L206 528 L198 537Z" fill="#e4e4e4" stroke="#7f7f7f" stroke-width="3"/><path d="M200 540 Q250 500 290 530" stroke="#a0a0a0" stroke-width="2" fill="none"/><path d="M192 548 L196 290 M206 548 L204 300" stroke="#7f7f7f" stroke-width="4"/><path d="M200 190 C192 163 163 123 140 100 C153 131 178 172 200 190Z" fill="#d6d6d6" stroke="#7f7f7f" stroke-width="2.5"/><path d="M200 190 C198 159 178 109 160 78 C166 114 182 165 200 190Z" fill="#d6d6d6" stroke="#7f7f7f" stroke-width="2.5"/><path d="M200 190 C209 160 207 105 200 68 C193 105 191 160 200 190Z" fill="#d6d6d6" stroke="#7f7f7f" stroke-width="2.5"/><path d="M200 190 C218 165 234 114 240 78 C222 109 202 159 200 190Z" fill="#d6d6d6" stroke="#7f7f7f" stroke-width="2.5"/><path d="M200 190 C222 175 246 136 258 108 C235 129 207 164 200 190Z" fill="#d6d6d6" stroke="#7f7f7f" stroke-width="2.5"/><path d="M200 190 C190 173 162 157 140 150 C154 167 180 187 200 190Z" fill="#d6d6d6" stroke="#7f7f7f" stroke-width="2.5"/><path d="M200 190 C220 187 244 167 258 150 C237 157 209 173 200 190Z" fill="#d6d6d6" stroke="#7f7f7f" stroke-width="2.5"/><path d="M200 190 C204 162 192 115 180 85 C180 118 186 165 200 190Z" fill="#d6d6d6" stroke="#7f7f7f" stroke-width="2.5"/><path d="M200 190 C214 167 222 121 222 90 C209 119 197 163 200 190Z" fill="#d6d6d6" stroke="#7f7f7f" stroke-width="2.5"/><path d="M200 190 C198 169 178 141 160 125 C166 148 182 178 200 190Z" fill="#d6d6d6" stroke="#7f7f7f" stroke-width="2.5"/><path d="M200 190 C218 178 234 148 240 125 C222 141 202 169 200 190Z" fill="#d6d6d6" stroke="#7f7f7f" stroke-width="2.5"/><path d="M200 190 C209 168 207 127 200 100 C193 127 191 168 200 190Z" fill="#d6d6d6" stroke="#7f7f7f" stroke-width="2.5"/><ellipse cx="200" cy="242" rx="42" ry="60" fill="#c4c4c4" stroke="#7f7f7f" stroke-width="3"/><defs><clipPath id="pa"><ellipse cx="200" cy="242" rx="42" ry="60"/></clipPath></defs><g clip-path="url(#pa)"><g stroke="#7a7a7a" stroke-width="2.5" fill="none"><path d="M80 180 L160 300"/><path d="M160 180 L80 300"/><path d="M96 180 L176 300"/><path d="M176 180 L96 300"/><path d="M112 180 L192 300"/><path d="M192 180 L112 300"/><path d="M128 180 L208 300"/><path d="M208 180 L128 300"/><path d="M144 180 L224 300"/><path d="M224 180 L144 300"/><path d="M160 180 L240 300"/><path d="M240 180 L160 300"/><path d="M176 180 L256 300"/><path d="M256 180 L176 300"/><path d="M192 180 L272 300"/><path d="M272 180 L192 300"/><path d="M208 180 L288 300"/><path d="M288 180 L208 300"/><path d="M224 180 L304 300"/><path d="M304 180 L224 300"/><path d="M240 180 L320 300"/><path d="M320 180 L240 300"/></g></g></g><g transform="translate(1570 172) scale(0.220690)"><g fill="#a09d8f"><path d="M187 550 L175 450 L157 305 L138 159 L124 59 L113 23 L101 26 L97 44 L95 55 L95 55 L100 45 L105 28 L108 26 L116 61 L131 160 L151 306 L170 451 L183 550Z"/><path d="M187 550 L183 463 L176 336 L169 209 L164 120 L159 84 L152 79 L150 90 L150 95 L150 95 L153 90 L155 82 L153 85 L156 120 L162 209 L170 337 L178 463 L183 550Z"/><path d="M187 550 L197 470 L211 352 L225 233 L234 150 L235 118 L229 114 L226 124 L225 130 L225 130 L228 125 L232 116 L229 118 L226 150 L218 232 L205 351 L192 469 L183 550Z"/><path d="M187 549 L170 500 L144 428 L117 354 L94 298 L73 267 L53 250 L37 241 L25 235 L25 235 L35 244 L50 254 L68 271 L86 302 L111 357 L139 430 L165 502 L183 551Z"/><path d="M187 549 L172 516 L150 468 L125 418 L103 378 L82 352 L61 333 L43 319 L30 310 L30 310 L41 321 L58 336 L77 356 L97 382 L119 421 L144 471 L167 518 L183 551Z"/><path d="M187 549 L173 528 L154 497 L132 467 L112 447 L92 444 L74 452 L60 462 L50 470 L50 470 L61 465 L76 456 L93 450 L108 453 L127 471 L149 500 L169 531 L183 551Z"/><path d="M187 551 L207 490 L236 401 L267 310 L294 242 L314 204 L333 182 L349 170 L360 160 L360 160 L347 168 L330 179 L309 200 L286 238 L260 307 L230 399 L202 488 L183 549Z"/><path d="M187 551 L207 508 L236 445 L267 380 L293 332 L313 304 L330 288 L345 278 L355 270 L355 270 L344 276 L328 284 L308 300 L287 328 L261 377 L231 442 L203 506 L183 549Z"/><path d="M187 551 L207 521 L235 477 L266 433 L293 403 L315 390 L337 388 L356 390 L370 390 L370 390 L356 387 L337 383 L313 384 L287 397 L260 429 L230 474 L202 518 L183 549Z"/><path d="M187 551 L199 531 L216 501 L235 472 L252 453 L267 447 L284 448 L299 453 L310 455 L310 455 L300 450 L285 444 L266 441 L248 447 L230 468 L211 498 L195 528 L183 549Z"/><path d="M187 549 L179 538 L167 522 L154 507 L142 496 L128 496 L116 502 L106 510 L100 515 L100 515 L108 512 L118 506 L129 503 L138 504 L150 512 L163 526 L175 541 L183 551Z"/><path d="M187 551 L195 541 L207 526 L220 511 L231 504 L240 504 L252 509 L262 516 L270 520 L270 520 L264 514 L254 505 L242 498 L229 496 L216 506 L203 522 L191 538 L183 549Z"/><path d="M187 550 L182 501 L174 430 L165 360 L153 318 L133 318 L116 344 L100 378 L90 400 L90 400 L103 379 L120 347 L137 323 L147 322 L158 362 L168 430 L177 502 L183 550Z"/><path d="M187 550 L200 501 L219 429 L239 355 L254 301 L262 273 L266 260 L269 255 L270 250 L270 250 L266 254 L262 258 L256 271 L246 299 L232 353 L213 427 L195 500 L183 550Z"/><path d="M187 550 L183 490 L177 402 L171 313 L164 249 L155 220 L145 209 L136 210 L130 210 L130 210 L135 212 L142 213 L149 222 L156 251 L164 314 L171 403 L178 490 L183 550Z"/><path d="M187 550 L191 480 L196 379 L201 275 L204 200 L203 163 L201 148 L198 143 L195 140 L195 140 L195 145 L196 149 L197 163 L196 200 L194 275 L190 379 L186 480 L183 550Z"/><path d="M187 550 L193 470 L202 354 L212 236 L219 150 L222 110 L224 96 L225 94 L225 90 L225 90 L223 92 L220 94 L216 109 L211 150 L205 235 L196 354 L188 470 L183 550Z"/><path d="M187 550 L196 507 L209 443 L223 378 L234 331 L240 308 L245 298 L248 294 L250 290 L250 290 L246 292 L241 295 L234 305 L226 329 L216 377 L203 442 L191 506 L183 550Z"/><path d="M187 550 L185 506 L182 442 L178 377 L174 329 L168 305 L161 295 L154 292 L150 290 L150 290 L153 294 L157 298 L162 307 L166 331 L171 378 L176 443 L180 506 L183 550Z"/></g><path d="M160 240 L157 226 L153 205 L148 181 L143 157 L137 135 L130 120 L123 111 L115 106 L106 103 L97 103 L88 104 L80 105 L72 107 L63 111 L55 117 L47 123 L40 129 L35 135 L31 142 L29 149 L27 157 L26 164 L26 171 L25 175" stroke="#a09d8f" stroke-width="3.5" fill="none"/><ellipse cx="161" cy="203" rx="6" ry="4" transform="rotate(-76 161 203)" fill="#a09d8f"/><ellipse cx="145" cy="207" rx="6" ry="4" transform="rotate(-126 145 207)" fill="#a09d8f"/><ellipse cx="150" cy="155" rx="6" ry="4" transform="rotate(-79 150 155)" fill="#a09d8f"/><ellipse cx="135" cy="159" rx="6" ry="4" transform="rotate(-129 135 159)" fill="#a09d8f"/><ellipse cx="137" cy="116" rx="6" ry="4" transform="rotate(-94 137 116)" fill="#a09d8f"/><ellipse cx="123" cy="124" rx="6" ry="4" transform="rotate(-144 123 124)" fill="#a09d8f"/><ellipse cx="118" cy="98" rx="6" ry="4" transform="rotate(-130 118 98)" fill="#a09d8f"/><ellipse cx="111" cy="113" rx="6" ry="4" transform="rotate(-180 111 113)" fill="#a09d8f"/><ellipse cx="97" cy="95" rx="6" ry="4" transform="rotate(203 97 95)" fill="#a09d8f"/><ellipse cx="97" cy="111" rx="6" ry="4" transform="rotate(153 97 111)" fill="#a09d8f"/><ellipse cx="78" cy="97" rx="6" ry="4" transform="rotate(193 78 97)" fill="#a09d8f"/><ellipse cx="82" cy="113" rx="6" ry="4" transform="rotate(143 82 113)" fill="#a09d8f"/><ellipse cx="59" cy="104" rx="6" ry="4" transform="rotate(176 59 104)" fill="#a09d8f"/><ellipse cx="67" cy="118" rx="6" ry="4" transform="rotate(126 67 118)" fill="#a09d8f"/><ellipse cx="42" cy="116" rx="6" ry="4" transform="rotate(165 42 116)" fill="#a09d8f"/><ellipse cx="52" cy="129" rx="6" ry="4" transform="rotate(115 52 129)" fill="#a09d8f"/><ellipse cx="29" cy="130" rx="6" ry="4" transform="rotate(151 29 130)" fill="#a09d8f"/><ellipse cx="41" cy="140" rx="6" ry="4" transform="rotate(101 41 140)" fill="#a09d8f"/><ellipse cx="21" cy="147" rx="6" ry="4" transform="rotate(130 21 147)" fill="#a09d8f"/><ellipse cx="36" cy="151" rx="6" ry="4" transform="rotate(80 36 151)" fill="#a09d8f"/><ellipse cx="18" cy="163" rx="6" ry="4" transform="rotate(121 18 163)" fill="#a09d8f"/><ellipse cx="34" cy="165" rx="6" ry="4" transform="rotate(71 34 165)" fill="#a09d8f"/><path d="M150 230 L147 220 L143 206 L138 190 L132 174 L126 160 L120 150 L113 145 L105 142 L97 142 L89 143 L82 146 L75 150 L69 156 L64 164 L59 173 L55 183 L52 192 L50 200 L50 207 L51 214 L53 221 L56 226 L59 231 L60 235" stroke="#a09d8f" stroke-width="3.5" fill="none"/><ellipse cx="150" cy="204" rx="6" ry="4" transform="rotate(-82 150 204)" fill="#a09d8f"/><ellipse cx="135" cy="209" rx="6" ry="4" transform="rotate(-132 135 209)" fill="#a09d8f"/><ellipse cx="140" cy="171" rx="6" ry="4" transform="rotate(-86 140 171)" fill="#a09d8f"/><ellipse cx="125" cy="177" rx="6" ry="4" transform="rotate(-136 125 177)" fill="#a09d8f"/><ellipse cx="126" cy="145" rx="6" ry="4" transform="rotate(-106 126 145)" fill="#a09d8f"/><ellipse cx="114" cy="155" rx="6" ry="4" transform="rotate(-156 114 155)" fill="#a09d8f"/><ellipse cx="107" cy="134" rx="6" ry="4" transform="rotate(-145 107 134)" fill="#a09d8f"/><ellipse cx="104" cy="150" rx="6" ry="4" transform="rotate(-195 104 150)" fill="#a09d8f"/><ellipse cx="87" cy="136" rx="6" ry="4" transform="rotate(190 87 136)" fill="#a09d8f"/><ellipse cx="91" cy="151" rx="6" ry="4" transform="rotate(140 91 151)" fill="#a09d8f"/><ellipse cx="70" cy="144" rx="6" ry="4" transform="rotate(167 70 144)" fill="#a09d8f"/><ellipse cx="80" cy="156" rx="6" ry="4" transform="rotate(117 80 156)" fill="#a09d8f"/><ellipse cx="57" cy="159" rx="6" ry="4" transform="rotate(146 57 159)" fill="#a09d8f"/><ellipse cx="71" cy="168" rx="6" ry="4" transform="rotate(96 71 168)" fill="#a09d8f"/><ellipse cx="48" cy="180" rx="6" ry="4" transform="rotate(135 48 180)" fill="#a09d8f"/><ellipse cx="62" cy="185" rx="6" ry="4" transform="rotate(85 62 185)" fill="#a09d8f"/><ellipse cx="42" cy="199" rx="6" ry="4" transform="rotate(123 42 199)" fill="#a09d8f"/><ellipse cx="58" cy="201" rx="6" ry="4" transform="rotate(73 58 201)" fill="#a09d8f"/><ellipse cx="43" cy="216" rx="6" ry="4" transform="rotate(100 43 216)" fill="#a09d8f"/><ellipse cx="59" cy="212" rx="6" ry="4" transform="rotate(50 59 212)" fill="#a09d8f"/><ellipse cx="49" cy="230" rx="6" ry="4" transform="rotate(90 49 230)" fill="#a09d8f"/><ellipse cx="63" cy="223" rx="6" ry="4" transform="rotate(40 63 223)" fill="#a09d8f"/><path d="M170 220 L169 210 L168 197 L167 181 L166 164 L163 150 L160 140 L155 133 L149 129 L143 126 L136 125 L130 126 L125 130 L121 137 L118 148 L115 162 L112 176 L111 189 L110 200 L110 209 L112 219 L114 227 L116 234 L119 240 L120 245" stroke="#a09d8f" stroke-width="3.5" fill="none"/><ellipse cx="176" cy="196" rx="6" ry="4" transform="rotate(-69 176 196)" fill="#a09d8f"/><ellipse cx="160" cy="197" rx="6" ry="4" transform="rotate(-119 160 197)" fill="#a09d8f"/><ellipse cx="173" cy="163" rx="6" ry="4" transform="rotate(-72 173 163)" fill="#a09d8f"/><ellipse cx="158" cy="165" rx="6" ry="4" transform="rotate(-122 158 165)" fill="#a09d8f"/><ellipse cx="167" cy="137" rx="6" ry="4" transform="rotate(-90 167 137)" fill="#a09d8f"/><ellipse cx="153" cy="143" rx="6" ry="4" transform="rotate(-140 153 143)" fill="#a09d8f"/><ellipse cx="154" cy="122" rx="6" ry="4" transform="rotate(-123 154 122)" fill="#a09d8f"/><ellipse cx="145" cy="135" rx="6" ry="4" transform="rotate(-173 145 135)" fill="#a09d8f"/><ellipse cx="136" cy="117" rx="6" ry="4" transform="rotate(202 136 117)" fill="#a09d8f"/><ellipse cx="136" cy="133" rx="6" ry="4" transform="rotate(152 136 133)" fill="#a09d8f"/><ellipse cx="119" cy="125" rx="6" ry="4" transform="rotate(154 119 125)" fill="#a09d8f"/><ellipse cx="131" cy="135" rx="6" ry="4" transform="rotate(104 131 135)" fill="#a09d8f"/><ellipse cx="110" cy="146" rx="6" ry="4" transform="rotate(130 110 146)" fill="#a09d8f"/><ellipse cx="125" cy="150" rx="6" ry="4" transform="rotate(80 125 150)" fill="#a09d8f"/><ellipse cx="104" cy="174" rx="6" ry="4" transform="rotate(123 104 174)" fill="#a09d8f"/><ellipse cx="120" cy="177" rx="6" ry="4" transform="rotate(73 120 177)" fill="#a09d8f"/><ellipse cx="102" cy="200" rx="6" ry="4" transform="rotate(116 102 200)" fill="#a09d8f"/><ellipse cx="118" cy="200" rx="6" ry="4" transform="rotate(66 118 200)" fill="#a09d8f"/><ellipse cx="104" cy="220" rx="6" ry="4" transform="rotate(103 104 220)" fill="#a09d8f"/><ellipse cx="120" cy="217" rx="6" ry="4" transform="rotate(53 120 217)" fill="#a09d8f"/><ellipse cx="109" cy="237" rx="6" ry="4" transform="rotate(96 109 237)" fill="#a09d8f"/><ellipse cx="124" cy="232" rx="6" ry="4" transform="rotate(46 124 232)" fill="#a09d8f"/><path d="M230 190 L231 177 L232 159 L234 137 L236 115 L240 95 L245 80 L252 70 L261 62 L271 57 L281 54 L291 51 L300 50 L308 50 L317 51 L325 53 L333 56 L339 60 L345 65 L349 71 L353 79 L355 88 L357 97 L359 105 L360 110" stroke="#a09d8f" stroke-width="3.5" fill="none"/><ellipse cx="240" cy="159" rx="7" ry="4" transform="rotate(-61 240 159)" fill="#a09d8f"/><ellipse cx="224" cy="158" rx="7" ry="4" transform="rotate(-111 224 158)" fill="#a09d8f"/><ellipse cx="244" cy="116" rx="7" ry="4" transform="rotate(-57 244 116)" fill="#a09d8f"/><ellipse cx="229" cy="114" rx="7" ry="4" transform="rotate(-107 229 114)" fill="#a09d8f"/><ellipse cx="252" cy="83" rx="7" ry="4" transform="rotate(-40 252 83)" fill="#a09d8f"/><ellipse cx="238" cy="77" rx="7" ry="4" transform="rotate(-90 238 77)" fill="#a09d8f"/><ellipse cx="265" cy="69" rx="7" ry="4" transform="rotate(-9 265 69)" fill="#a09d8f"/><ellipse cx="256" cy="56" rx="7" ry="4" transform="rotate(-59 256 56)" fill="#a09d8f"/><ellipse cx="283" cy="61" rx="7" ry="4" transform="rotate(9 283 61)" fill="#a09d8f"/><ellipse cx="279" cy="46" rx="7" ry="4" transform="rotate(-41 279 46)" fill="#a09d8f"/><ellipse cx="301" cy="58" rx="7" ry="4" transform="rotate(19 301 58)" fill="#a09d8f"/><ellipse cx="299" cy="42" rx="7" ry="4" transform="rotate(-31 299 42)" fill="#a09d8f"/><ellipse cx="315" cy="58" rx="7" ry="4" transform="rotate(36 315 58)" fill="#a09d8f"/><ellipse cx="318" cy="43" rx="7" ry="4" transform="rotate(-14 318 43)" fill="#a09d8f"/><ellipse cx="329" cy="63" rx="7" ry="4" transform="rotate(52 329 63)" fill="#a09d8f"/><ellipse cx="336" cy="49" rx="7" ry="4" transform="rotate(2 336 49)" fill="#a09d8f"/><ellipse cx="339" cy="70" rx="7" ry="4" transform="rotate(73 339 70)" fill="#a09d8f"/><ellipse cx="351" cy="60" rx="7" ry="4" transform="rotate(23 351 60)" fill="#a09d8f"/><ellipse cx="345" cy="82" rx="7" ry="4" transform="rotate(96 345 82)" fill="#a09d8f"/><ellipse cx="360" cy="77" rx="7" ry="4" transform="rotate(46 360 77)" fill="#a09d8f"/><ellipse cx="349" cy="99" rx="7" ry="4" transform="rotate(103 349 99)" fill="#a09d8f"/><ellipse cx="365" cy="96" rx="7" ry="4" transform="rotate(53 365 96)" fill="#a09d8f"/><path d="M240 200 L242 189 L246 174 L250 156 L254 138 L259 122 L265 110 L272 102 L279 97 L288 94 L296 93 L304 93 L310 95 L315 99 L319 105 L322 113 L325 122 L328 132 L330 140 L332 149 L333 158 L334 168 L334 177 L335 185 L335 190" stroke="#a09d8f" stroke-width="3.5" fill="none"/><ellipse cx="254" cy="176" rx="7" ry="4" transform="rotate(-53 254 176)" fill="#a09d8f"/><ellipse cx="238" cy="172" rx="7" ry="4" transform="rotate(-103 238 172)" fill="#a09d8f"/><ellipse cx="262" cy="140" rx="7" ry="4" transform="rotate(-49 262 140)" fill="#a09d8f"/><ellipse cx="247" cy="136" rx="7" ry="4" transform="rotate(-99 247 136)" fill="#a09d8f"/><ellipse cx="272" cy="114" rx="7" ry="4" transform="rotate(-33 272 114)" fill="#a09d8f"/><ellipse cx="258" cy="106" rx="7" ry="4" transform="rotate(-83 258 106)" fill="#a09d8f"/><ellipse cx="283" cy="104" rx="7" ry="4" transform="rotate(-2 283 104)" fill="#a09d8f"/><ellipse cx="276" cy="90" rx="7" ry="4" transform="rotate(-52 276 90)" fill="#a09d8f"/><ellipse cx="297" cy="101" rx="7" ry="4" transform="rotate(22 297 101)" fill="#a09d8f"/><ellipse cx="296" cy="85" rx="7" ry="4" transform="rotate(-28 296 85)" fill="#a09d8f"/><ellipse cx="306" cy="102" rx="7" ry="4" transform="rotate(52 306 102)" fill="#a09d8f"/><ellipse cx="314" cy="88" rx="7" ry="4" transform="rotate(2 314 88)" fill="#a09d8f"/><ellipse cx="312" cy="109" rx="7" ry="4" transform="rotate(87 312 109)" fill="#a09d8f"/><ellipse cx="326" cy="102" rx="7" ry="4" transform="rotate(37 326 102)" fill="#a09d8f"/><ellipse cx="318" cy="125" rx="7" ry="4" transform="rotate(99 318 125)" fill="#a09d8f"/><ellipse cx="333" cy="120" rx="7" ry="4" transform="rotate(49 333 120)" fill="#a09d8f"/><ellipse cx="322" cy="142" rx="7" ry="4" transform="rotate(102 322 142)" fill="#a09d8f"/><ellipse cx="338" cy="138" rx="7" ry="4" transform="rotate(52 338 138)" fill="#a09d8f"/><ellipse cx="325" cy="159" rx="7" ry="4" transform="rotate(109 325 159)" fill="#a09d8f"/><ellipse cx="341" cy="157" rx="7" ry="4" transform="rotate(59 341 157)" fill="#a09d8f"/><ellipse cx="326" cy="177" rx="7" ry="4" transform="rotate(112 326 177)" fill="#a09d8f"/><ellipse cx="342" cy="176" rx="7" ry="4" transform="rotate(62 342 176)" fill="#a09d8f"/><path d="M235 210 L237 202 L239 189 L241 175 L244 161 L247 148 L250 140 L254 135 L258 133 L263 132 L267 133 L272 136 L275 140 L278 147 L280 156 L282 168 L284 179 L285 190 L285 200 L284 208 L283 216 L281 224 L278 230 L276 236 L275 240" stroke="#a09d8f" stroke-width="3.5" fill="none"/><ellipse cx="246" cy="191" rx="7" ry="4" transform="rotate(-56 246 191)" fill="#a09d8f"/><ellipse cx="231" cy="188" rx="7" ry="4" transform="rotate(-106 231 188)" fill="#a09d8f"/><ellipse cx="252" cy="162" rx="7" ry="4" transform="rotate(-53 252 162)" fill="#a09d8f"/><ellipse cx="236" cy="159" rx="7" ry="4" transform="rotate(-103 236 159)" fill="#a09d8f"/><ellipse cx="257" cy="144" rx="7" ry="4" transform="rotate(-37 257 144)" fill="#a09d8f"/><ellipse cx="243" cy="136" rx="7" ry="4" transform="rotate(-87 243 136)" fill="#a09d8f"/><ellipse cx="261" cy="140" rx="7" ry="4" transform="rotate(5 261 140)" fill="#a09d8f"/><ellipse cx="255" cy="125" rx="7" ry="4" transform="rotate(-45 255 125)" fill="#a09d8f"/><ellipse cx="264" cy="140" rx="7" ry="4" transform="rotate(49 264 140)" fill="#a09d8f"/><ellipse cx="271" cy="126" rx="7" ry="4" transform="rotate(-1 271 126)" fill="#a09d8f"/><ellipse cx="268" cy="144" rx="7" ry="4" transform="rotate(86 268 144)" fill="#a09d8f"/><ellipse cx="282" cy="136" rx="7" ry="4" transform="rotate(36 282 136)" fill="#a09d8f"/><ellipse cx="272" cy="158" rx="7" ry="4" transform="rotate(103 272 158)" fill="#a09d8f"/><ellipse cx="288" cy="155" rx="7" ry="4" transform="rotate(53 288 155)" fill="#a09d8f"/><ellipse cx="276" cy="180" rx="7" ry="4" transform="rotate(109 276 180)" fill="#a09d8f"/><ellipse cx="292" cy="178" rx="7" ry="4" transform="rotate(59 292 178)" fill="#a09d8f"/><ellipse cx="277" cy="200" rx="7" ry="4" transform="rotate(116 277 200)" fill="#a09d8f"/><ellipse cx="293" cy="200" rx="7" ry="4" transform="rotate(66 293 200)" fill="#a09d8f"/><ellipse cx="275" cy="214" rx="7" ry="4" transform="rotate(129 275 214)" fill="#a09d8f"/><ellipse cx="291" cy="218" rx="7" ry="4" transform="rotate(79 291 218)" fill="#a09d8f"/><ellipse cx="271" cy="228" rx="7" ry="4" transform="rotate(135 271 228)" fill="#a09d8f"/><ellipse cx="286" cy="233" rx="7" ry="4" transform="rotate(85 286 233)" fill="#a09d8f"/></g><g transform="translate(1705 172) scale(0.220690)"><g fill="#c6c6c6"><path d="M204 540 C201 434 139 326 50 270 C128 333 189 441 204 540Z"/><path d="M218 540 C200 451 130 371 45 340 C121 379 190 459 218 540Z"/><path d="M205 540 C181 478 120 430 55 420 C112 441 172 489 205 540Z"/><path d="M196 540 C168 505 120 485 75 490 C114 497 163 517 196 540Z"/><path d="M209 540 C210 430 155 310 70 240 C141 316 197 436 209 540Z"/><path d="M193 540 C184 478 142 414 90 380 C132 421 173 485 193 540Z"/><path d="M193 540 C181 501 148 465 110 450 C137 475 170 511 193 540Z"/><path d="M211 540 C218 418 182 266 120 160 C171 268 207 420 211 540Z"/><path d="M219 540 C227 406 200 234 150 110 C184 237 212 409 219 540Z"/><path d="M210 540 C206 455 162 359 100 300 C149 365 193 461 210 540Z"/><path d="M195 540 C211 442 273 334 350 270 C264 328 202 436 195 540Z"/><path d="M206 540 C228 463 288 383 355 340 C279 377 219 457 206 540Z"/><path d="M196 540 C230 489 292 441 350 420 C284 431 223 479 196 540Z"/><path d="M191 540 C229 516 285 496 330 490 C280 483 225 503 191 540Z"/><path d="M203 540 C215 438 267 318 335 240 C254 312 201 432 203 540Z"/><path d="M206 540 C229 484 275 420 320 380 C264 412 218 476 206 540Z"/><path d="M205 540 C231 510 269 474 300 450 C259 464 221 500 205 540Z"/><path d="M204 540 C207 421 241 269 290 160 C229 266 195 418 204 540Z"/><path d="M220 540 C219 410 235 238 260 110 C219 236 203 408 220 540Z"/><path d="M215 540 C228 462 266 366 310 300 C252 360 214 456 215 540Z"/><path d="M199 540 C207 396 209 204 205 60 C197 204 195 396 199 540Z"/><path d="M199 540 C209 404 201 224 180 90 C190 225 198 405 199 540Z"/><path d="M213 540 C214 405 221 225 230 90 C208 224 202 404 213 540Z"/><path d="M215 540 C219 436 201 300 170 200 C188 301 206 437 215 540Z"/><path d="M219 540 C222 438 230 302 240 200 C216 301 207 437 219 540Z"/><path d="M190 540 C200 453 204 337 200 250 C192 337 188 453 190 540Z"/><path d="M217 540 C215 463 188 367 150 300 C176 370 203 466 217 540Z"/><path d="M219 540 C226 467 242 371 260 300 C230 369 213 465 219 540Z"/><path d="M192 540 C191 493 170 437 140 400 C157 441 178 497 192 540Z"/><path d="M213 540 C228 497 250 441 270 400 C239 436 217 492 213 540Z"/><path d="M193 540 C203 483 207 407 205 350 C195 407 190 483 193 540Z"/><path d="M219 540 C186 486 123 450 60 450 C116 463 179 499 219 540Z"/><path d="M194 540 C231 501 292 467 345 455 C286 456 225 490 194 540Z"/><path d="M193 540 C188 463 145 379 85 330 C135 384 178 468 193 540Z"/><path d="M214 540 C230 468 274 384 325 330 C264 378 220 462 214 540Z"/><path d="M207 540 C211 440 180 316 130 230 C168 319 198 443 207 540Z"/><path d="M196 540 C207 443 241 319 280 230 C227 315 193 439 196 540Z"/></g><g stroke="#c6c6c6" fill="none" stroke-linecap="round"><path d="M205 40 L205 260" stroke-width="5"/><path d="M205 65 Q216 55 228 42" stroke-width="3.5"/><circle cx="216" cy="51" r="6" fill="#c6c6c6" stroke="none"/><circle cx="223" cy="47" r="6" fill="#c6c6c6" stroke="none"/><circle cx="228" cy="44" r="6" fill="#c6c6c6" stroke="none"/><path d="M205 65 Q194 55 182 42" stroke-width="3.5"/><circle cx="194" cy="51" r="6" fill="#c6c6c6" stroke="none"/><circle cx="187" cy="47" r="6" fill="#c6c6c6" stroke="none"/><circle cx="182" cy="44" r="6" fill="#c6c6c6" stroke="none"/><path d="M205 85 Q220 75 234 62" stroke-width="3.5"/><circle cx="220" cy="71" r="6" fill="#c6c6c6" stroke="none"/><circle cx="228" cy="67" r="6" fill="#c6c6c6" stroke="none"/><circle cx="234" cy="64" r="6" fill="#c6c6c6" stroke="none"/><path d="M205 85 Q190 75 176 62" stroke-width="3.5"/><circle cx="190" cy="71" r="6" fill="#c6c6c6" stroke="none"/><circle cx="182" cy="67" r="6" fill="#c6c6c6" stroke="none"/><circle cx="176" cy="64" r="6" fill="#c6c6c6" stroke="none"/><path d="M205 105 Q223 95 241 82" stroke-width="3.5"/><circle cx="223" cy="91" r="6" fill="#c6c6c6" stroke="none"/><circle cx="234" cy="87" r="6" fill="#c6c6c6" stroke="none"/><circle cx="241" cy="84" r="6" fill="#c6c6c6" stroke="none"/><path d="M205 105 Q187 95 169 82" stroke-width="3.5"/><circle cx="187" cy="91" r="6" fill="#c6c6c6" stroke="none"/><circle cx="176" cy="87" r="6" fill="#c6c6c6" stroke="none"/><circle cx="169" cy="84" r="6" fill="#c6c6c6" stroke="none"/><path d="M205 125 Q226 115 247 102" stroke-width="3.5"/><circle cx="226" cy="111" r="6" fill="#c6c6c6" stroke="none"/><circle cx="239" cy="107" r="6" fill="#c6c6c6" stroke="none"/><circle cx="247" cy="104" r="6" fill="#c6c6c6" stroke="none"/><path d="M205 125 Q184 115 163 102" stroke-width="3.5"/><circle cx="184" cy="111" r="6" fill="#c6c6c6" stroke="none"/><circle cx="171" cy="107" r="6" fill="#c6c6c6" stroke="none"/><circle cx="163" cy="104" r="6" fill="#c6c6c6" stroke="none"/><path d="M205 145 Q229 135 254 122" stroke-width="3.5"/><circle cx="229" cy="131" r="6" fill="#c6c6c6" stroke="none"/><circle cx="244" cy="127" r="6" fill="#c6c6c6" stroke="none"/><circle cx="254" cy="124" r="6" fill="#c6c6c6" stroke="none"/><path d="M205 145 Q181 135 156 122" stroke-width="3.5"/><circle cx="181" cy="131" r="6" fill="#c6c6c6" stroke="none"/><circle cx="166" cy="127" r="6" fill="#c6c6c6" stroke="none"/><circle cx="156" cy="124" r="6" fill="#c6c6c6" stroke="none"/><path d="M205 165 Q233 155 260 142" stroke-width="3.5"/><circle cx="233" cy="151" r="6" fill="#c6c6c6" stroke="none"/><circle cx="249" cy="147" r="6" fill="#c6c6c6" stroke="none"/><circle cx="260" cy="144" r="6" fill="#c6c6c6" stroke="none"/><path d="M205 165 Q177 155 150 142" stroke-width="3.5"/><circle cx="177" cy="151" r="6" fill="#c6c6c6" stroke="none"/><circle cx="161" cy="147" r="6" fill="#c6c6c6" stroke="none"/><circle cx="150" cy="144" r="6" fill="#c6c6c6" stroke="none"/><path d="M205 185 Q236 175 267 162" stroke-width="3.5"/><circle cx="236" cy="171" r="6" fill="#c6c6c6" stroke="none"/><circle cx="254" cy="167" r="6" fill="#c6c6c6" stroke="none"/><circle cx="267" cy="164" r="6" fill="#c6c6c6" stroke="none"/><path d="M205 185 Q174 175 143 162" stroke-width="3.5"/><circle cx="174" cy="171" r="6" fill="#c6c6c6" stroke="none"/><circle cx="156" cy="167" r="6" fill="#c6c6c6" stroke="none"/><circle cx="143" cy="164" r="6" fill="#c6c6c6" stroke="none"/><path d="M205 205 Q239 195 273 182" stroke-width="3.5"/><circle cx="239" cy="191" r="6" fill="#c6c6c6" stroke="none"/><circle cx="260" cy="187" r="6" fill="#c6c6c6" stroke="none"/><circle cx="273" cy="184" r="6" fill="#c6c6c6" stroke="none"/><path d="M205 205 Q171 195 137 182" stroke-width="3.5"/><circle cx="171" cy="191" r="6" fill="#c6c6c6" stroke="none"/><circle cx="150" cy="187" r="6" fill="#c6c6c6" stroke="none"/><circle cx="137" cy="184" r="6" fill="#c6c6c6" stroke="none"/><path d="M205 225 Q242 215 280 202" stroke-width="3.5"/><circle cx="242" cy="211" r="6" fill="#c6c6c6" stroke="none"/><circle cx="265" cy="207" r="6" fill="#c6c6c6" stroke="none"/><circle cx="280" cy="204" r="6" fill="#c6c6c6" stroke="none"/><path d="M205 225 Q168 215 130 202" stroke-width="3.5"/><circle cx="168" cy="211" r="6" fill="#c6c6c6" stroke="none"/><circle cx="145" cy="207" r="6" fill="#c6c6c6" stroke="none"/><circle cx="130" cy="204" r="6" fill="#c6c6c6" stroke="none"/><path d="M110 175 L110 325" stroke-width="5"/><path d="M110 200 Q116 190 121 177" stroke-width="3.5"/><circle cx="116" cy="186" r="6" fill="#c6c6c6" stroke="none"/><circle cx="119" cy="182" r="6" fill="#c6c6c6" stroke="none"/><circle cx="121" cy="179" r="6" fill="#c6c6c6" stroke="none"/><path d="M110 200 Q104 190 99 177" stroke-width="3.5"/><circle cx="104" cy="186" r="6" fill="#c6c6c6" stroke="none"/><circle cx="101" cy="182" r="6" fill="#c6c6c6" stroke="none"/><circle cx="99" cy="179" r="6" fill="#c6c6c6" stroke="none"/><path d="M110 211 Q117 201 125 188" stroke-width="3.5"/><circle cx="117" cy="197" r="6" fill="#c6c6c6" stroke="none"/><circle cx="122" cy="193" r="6" fill="#c6c6c6" stroke="none"/><circle cx="125" cy="190" r="6" fill="#c6c6c6" stroke="none"/><path d="M110 211 Q103 201 95 188" stroke-width="3.5"/><circle cx="103" cy="197" r="6" fill="#c6c6c6" stroke="none"/><circle cx="98" cy="193" r="6" fill="#c6c6c6" stroke="none"/><circle cx="95" cy="190" r="6" fill="#c6c6c6" stroke="none"/><path d="M110 222 Q119 212 128 200" stroke-width="3.5"/><circle cx="119" cy="208" r="6" fill="#c6c6c6" stroke="none"/><circle cx="124" cy="204" r="6" fill="#c6c6c6" stroke="none"/><circle cx="128" cy="202" r="6" fill="#c6c6c6" stroke="none"/><path d="M110 222 Q101 212 92 200" stroke-width="3.5"/><circle cx="101" cy="208" r="6" fill="#c6c6c6" stroke="none"/><circle cx="96" cy="204" r="6" fill="#c6c6c6" stroke="none"/><circle cx="92" cy="202" r="6" fill="#c6c6c6" stroke="none"/><path d="M110 234 Q121 224 131 211" stroke-width="3.5"/><circle cx="121" cy="220" r="6" fill="#c6c6c6" stroke="none"/><circle cx="127" cy="216" r="6" fill="#c6c6c6" stroke="none"/><circle cx="131" cy="213" r="6" fill="#c6c6c6" stroke="none"/><path d="M110 234 Q99 224 89 211" stroke-width="3.5"/><circle cx="99" cy="220" r="6" fill="#c6c6c6" stroke="none"/><circle cx="93" cy="216" r="6" fill="#c6c6c6" stroke="none"/><circle cx="89" cy="213" r="6" fill="#c6c6c6" stroke="none"/><path d="M110 245 Q122 235 135 222" stroke-width="3.5"/><circle cx="122" cy="231" r="6" fill="#c6c6c6" stroke="none"/><circle cx="130" cy="227" r="6" fill="#c6c6c6" stroke="none"/><circle cx="135" cy="224" r="6" fill="#c6c6c6" stroke="none"/><path d="M110 245 Q98 235 85 222" stroke-width="3.5"/><circle cx="98" cy="231" r="6" fill="#c6c6c6" stroke="none"/><circle cx="90" cy="227" r="6" fill="#c6c6c6" stroke="none"/><circle cx="85" cy="224" r="6" fill="#c6c6c6" stroke="none"/><path d="M110 256 Q124 246 138 233" stroke-width="3.5"/><circle cx="124" cy="242" r="6" fill="#c6c6c6" stroke="none"/><circle cx="132" cy="238" r="6" fill="#c6c6c6" stroke="none"/><circle cx="138" cy="235" r="6" fill="#c6c6c6" stroke="none"/><path d="M110 256 Q96 246 82 233" stroke-width="3.5"/><circle cx="96" cy="242" r="6" fill="#c6c6c6" stroke="none"/><circle cx="88" cy="238" r="6" fill="#c6c6c6" stroke="none"/><circle cx="82" cy="235" r="6" fill="#c6c6c6" stroke="none"/><path d="M110 268 Q126 258 141 244" stroke-width="3.5"/><circle cx="126" cy="254" r="6" fill="#c6c6c6" stroke="none"/><circle cx="135" cy="249" r="6" fill="#c6c6c6" stroke="none"/><circle cx="141" cy="246" r="6" fill="#c6c6c6" stroke="none"/><path d="M110 268 Q94 258 79 244" stroke-width="3.5"/><circle cx="94" cy="254" r="6" fill="#c6c6c6" stroke="none"/><circle cx="85" cy="249" r="6" fill="#c6c6c6" stroke="none"/><circle cx="79" cy="246" r="6" fill="#c6c6c6" stroke="none"/><path d="M110 279 Q127 269 145 256" stroke-width="3.5"/><circle cx="127" cy="265" r="6" fill="#c6c6c6" stroke="none"/><circle cx="138" cy="261" r="6" fill="#c6c6c6" stroke="none"/><circle cx="145" cy="258" r="6" fill="#c6c6c6" stroke="none"/><path d="M110 279 Q93 269 75 256" stroke-width="3.5"/><circle cx="93" cy="265" r="6" fill="#c6c6c6" stroke="none"/><circle cx="82" cy="261" r="6" fill="#c6c6c6" stroke="none"/><circle cx="75" cy="258" r="6" fill="#c6c6c6" stroke="none"/><path d="M110 290 Q129 280 148 267" stroke-width="3.5"/><circle cx="129" cy="276" r="6" fill="#c6c6c6" stroke="none"/><circle cx="140" cy="272" r="6" fill="#c6c6c6" stroke="none"/><circle cx="148" cy="269" r="6" fill="#c6c6c6" stroke="none"/><path d="M110 290 Q91 280 72 267" stroke-width="3.5"/><circle cx="91" cy="276" r="6" fill="#c6c6c6" stroke="none"/><circle cx="80" cy="272" r="6" fill="#c6c6c6" stroke="none"/><circle cx="72" cy="269" r="6" fill="#c6c6c6" stroke="none"/><path d="M295 200 L295 350" stroke-width="5"/><path d="M295 225 Q301 215 307 202" stroke-width="3.5"/><circle cx="301" cy="211" r="6" fill="#c6c6c6" stroke="none"/><circle cx="305" cy="207" r="6" fill="#c6c6c6" stroke="none"/><circle cx="307" cy="204" r="6" fill="#c6c6c6" stroke="none"/><path d="M295 225 Q289 215 283 202" stroke-width="3.5"/><circle cx="289" cy="211" r="6" fill="#c6c6c6" stroke="none"/><circle cx="285" cy="207" r="6" fill="#c6c6c6" stroke="none"/><circle cx="283" cy="204" r="6" fill="#c6c6c6" stroke="none"/><path d="M295 236 Q303 226 310 213" stroke-width="3.5"/><circle cx="303" cy="222" r="6" fill="#c6c6c6" stroke="none"/><circle cx="307" cy="218" r="6" fill="#c6c6c6" stroke="none"/><circle cx="310" cy="215" r="6" fill="#c6c6c6" stroke="none"/><path d="M295 236 Q287 226 280 213" stroke-width="3.5"/><circle cx="287" cy="222" r="6" fill="#c6c6c6" stroke="none"/><circle cx="283" cy="218" r="6" fill="#c6c6c6" stroke="none"/><circle cx="280" cy="215" r="6" fill="#c6c6c6" stroke="none"/><path d="M295 248 Q304 238 314 224" stroke-width="3.5"/><circle cx="304" cy="234" r="6" fill="#c6c6c6" stroke="none"/><circle cx="310" cy="229" r="6" fill="#c6c6c6" stroke="none"/><circle cx="314" cy="226" r="6" fill="#c6c6c6" stroke="none"/><path d="M295 248 Q286 238 276 224" stroke-width="3.5"/><circle cx="286" cy="234" r="6" fill="#c6c6c6" stroke="none"/><circle cx="280" cy="229" r="6" fill="#c6c6c6" stroke="none"/><circle cx="276" cy="226" r="6" fill="#c6c6c6" stroke="none"/><path d="M295 259 Q306 249 318 236" stroke-width="3.5"/><circle cx="306" cy="245" r="6" fill="#c6c6c6" stroke="none"/><circle cx="313" cy="241" r="6" fill="#c6c6c6" stroke="none"/><circle cx="318" cy="238" r="6" fill="#c6c6c6" stroke="none"/><path d="M295 259 Q284 249 272 236" stroke-width="3.5"/><circle cx="284" cy="245" r="6" fill="#c6c6c6" stroke="none"/><circle cx="277" cy="241" r="6" fill="#c6c6c6" stroke="none"/><circle cx="272" cy="238" r="6" fill="#c6c6c6" stroke="none"/><path d="M295 270 Q308 260 321 247" stroke-width="3.5"/><circle cx="308" cy="256" r="6" fill="#c6c6c6" stroke="none"/><circle cx="316" cy="252" r="6" fill="#c6c6c6" stroke="none"/><circle cx="321" cy="249" r="6" fill="#c6c6c6" stroke="none"/><path d="M295 270 Q282 260 269 247" stroke-width="3.5"/><circle cx="282" cy="256" r="6" fill="#c6c6c6" stroke="none"/><circle cx="274" cy="252" r="6" fill="#c6c6c6" stroke="none"/><circle cx="269" cy="249" r="6" fill="#c6c6c6" stroke="none"/><path d="M295 281 Q310 271 324 258" stroke-width="3.5"/><circle cx="310" cy="267" r="6" fill="#c6c6c6" stroke="none"/><circle cx="319" cy="263" r="6" fill="#c6c6c6" stroke="none"/><circle cx="324" cy="260" r="6" fill="#c6c6c6" stroke="none"/><path d="M295 281 Q280 271 266 258" stroke-width="3.5"/><circle cx="280" cy="267" r="6" fill="#c6c6c6" stroke="none"/><circle cx="271" cy="263" r="6" fill="#c6c6c6" stroke="none"/><circle cx="266" cy="260" r="6" fill="#c6c6c6" stroke="none"/><path d="M295 292 Q312 282 328 270" stroke-width="3.5"/><circle cx="312" cy="278" r="6" fill="#c6c6c6" stroke="none"/><circle cx="321" cy="274" r="6" fill="#c6c6c6" stroke="none"/><circle cx="328" cy="272" r="6" fill="#c6c6c6" stroke="none"/><path d="M295 292 Q278 282 262 270" stroke-width="3.5"/><circle cx="278" cy="278" r="6" fill="#c6c6c6" stroke="none"/><circle cx="269" cy="274" r="6" fill="#c6c6c6" stroke="none"/><circle cx="262" cy="272" r="6" fill="#c6c6c6" stroke="none"/><path d="M295 304 Q313 294 332 281" stroke-width="3.5"/><circle cx="313" cy="290" r="6" fill="#c6c6c6" stroke="none"/><circle cx="324" cy="286" r="6" fill="#c6c6c6" stroke="none"/><circle cx="332" cy="283" r="6" fill="#c6c6c6" stroke="none"/><path d="M295 304 Q277 294 258 281" stroke-width="3.5"/><circle cx="277" cy="290" r="6" fill="#c6c6c6" stroke="none"/><circle cx="266" cy="286" r="6" fill="#c6c6c6" stroke="none"/><circle cx="258" cy="283" r="6" fill="#c6c6c6" stroke="none"/><path d="M295 315 Q315 305 335 292" stroke-width="3.5"/><circle cx="315" cy="301" r="6" fill="#c6c6c6" stroke="none"/><circle cx="327" cy="297" r="6" fill="#c6c6c6" stroke="none"/><circle cx="335" cy="294" r="6" fill="#c6c6c6" stroke="none"/><path d="M295 315 Q275 305 255 292" stroke-width="3.5"/><circle cx="275" cy="301" r="6" fill="#c6c6c6" stroke="none"/><circle cx="263" cy="297" r="6" fill="#c6c6c6" stroke="none"/><circle cx="255" cy="294" r="6" fill="#c6c6c6" stroke="none"/></g></g><g transform="translate(1841 172) scale(0.220690)"><path d="M195 545 L196 120" stroke="#999" stroke-width="8"/><path d="M178 545 L214 545" stroke="#999" stroke-width="5"/><path d="M198 179 L194 169 L189 156 L182 141 L174 130 L162 126 L151 128 L143 132 L135 139 L131 149 L128 161 L126 172 L126 180 L126 180 L130 173 L134 163 L139 153 L145 147 L149 144 L155 143 L159 144 L162 146 L169 151 L179 162 L188 173 L194 181Z" fill="#d4d4d4" stroke="#8c8c8c" stroke-width="2.5"/><path d="M198 171 L205 163 L214 152 L224 141 L232 136 L236 134 L241 133 L246 134 L251 137 L257 145 L262 158 L267 171 L271 180 L271 180 L270 170 L269 156 L265 141 L261 129 L253 122 L243 117 L232 116 L220 120 L212 131 L204 145 L198 159 L194 169Z" fill="#d4d4d4" stroke="#8c8c8c" stroke-width="2.5"/><path d="M198 239 L192 229 L184 215 L174 200 L163 189 L150 186 L137 186 L125 191 L115 199 L109 213 L105 231 L102 248 L101 260 L101 260 L106 249 L111 233 L118 217 L125 207 L131 203 L139 202 L146 204 L153 207 L163 212 L175 223 L186 234 L194 241Z" fill="#d4d4d4" stroke="#8c8c8c" stroke-width="2.5"/><path d="M198 231 L206 224 L216 212 L228 202 L237 197 L243 193 L250 192 L257 193 L263 197 L270 208 L276 225 L281 243 L286 255 L286 255 L285 242 L282 224 L279 204 L273 189 L264 180 L252 176 L240 176 L227 179 L216 191 L207 205 L199 219 L194 229Z" fill="#d4d4d4" stroke="#8c8c8c" stroke-width="2.5"/><path d="M197 309 L191 299 L181 285 L169 270 L156 259 L142 256 L128 256 L115 260 L103 269 L96 285 L91 306 L88 326 L86 340 L86 340 L91 327 L97 308 L105 289 L113 277 L120 273 L129 272 L139 273 L148 277 L159 282 L172 293 L185 304 L195 311Z" fill="#d4d4d4" stroke="#8c8c8c" stroke-width="2.5"/><path d="M198 301 L207 294 L219 283 L232 272 L243 267 L251 263 L260 261 L268 262 L275 266 L283 280 L290 303 L296 325 L301 340 L301 340 L300 324 L296 301 L292 278 L285 260 L274 249 L261 245 L247 245 L233 249 L221 260 L210 275 L201 289 L194 299Z" fill="#d4d4d4" stroke="#8c8c8c" stroke-width="2.5"/><path d="M197 384 L191 374 L181 360 L169 345 L156 334 L142 331 L128 331 L115 335 L103 344 L96 360 L91 381 L88 401 L86 415 L86 415 L91 402 L97 383 L105 364 L113 352 L120 348 L129 347 L139 348 L148 352 L159 357 L172 368 L185 379 L195 386Z" fill="#d4d4d4" stroke="#8c8c8c" stroke-width="2.5"/><path d="M198 376 L206 369 L218 358 L230 347 L241 342 L249 338 L257 336 L264 337 L271 341 L278 355 L285 378 L291 400 L296 415 L296 415 L295 399 L292 376 L287 353 L281 335 L271 324 L258 320 L244 320 L231 324 L220 335 L209 350 L200 364 L194 374Z" fill="#d4d4d4" stroke="#8c8c8c" stroke-width="2.5"/><path d="M197 459 L191 449 L181 435 L169 420 L156 409 L142 406 L128 406 L115 410 L103 419 L96 434 L91 453 L88 472 L86 485 L86 485 L91 473 L97 455 L105 438 L113 427 L120 423 L129 422 L139 423 L148 427 L159 432 L172 443 L185 454 L195 461Z" fill="#d4d4d4" stroke="#8c8c8c" stroke-width="2.5"/><path d="M198 451 L206 444 L217 433 L229 422 L239 417 L246 413 L254 411 L260 411 L267 416 L274 431 L281 455 L286 479 L291 495 L291 495 L290 478 L287 454 L283 429 L277 410 L267 399 L255 395 L242 395 L229 399 L218 410 L208 425 L200 439 L194 449Z" fill="#d4d4d4" stroke="#8c8c8c" stroke-width="2.5"/><path d="M198 30 C178 55 172 95 183 125 L213 125 C224 95 218 55 198 30Z" fill="#9a9a9a" stroke="#808080" stroke-width="3"/><g fill="#c8c8c8"><circle cx="186" cy="55" r="3"/><circle cx="196" cy="55" r="3"/><circle cx="206" cy="55" r="3"/><circle cx="191" cy="67" r="3"/><circle cx="201" cy="67" r="3"/><circle cx="211" cy="67" r="3"/><circle cx="186" cy="79" r="3"/><circle cx="196" cy="79" r="3"/><circle cx="206" cy="79" r="3"/><circle cx="191" cy="91" r="3"/><circle cx="201" cy="91" r="3"/><circle cx="211" cy="91" r="3"/><circle cx="186" cy="103" r="3"/><circle cx="196" cy="103" r="3"/><circle cx="206" cy="103" r="3"/><circle cx="191" cy="115" r="3"/><circle cx="201" cy="115" r="3"/><circle cx="211" cy="115" r="3"/></g></g><g transform="translate(1965 172) scale(0.220690)"><g stroke="#57524c" stroke-width="4" fill="#fbfaf7" stroke-linejoin="round"><path d="M179 514 L172 484 L162 442 L150 394 L139 349 L128 304 L116 256 L105 214 L97 184 L93 186 L99 215 L109 258 L121 306 L131 351 L142 396 L153 444 L164 486 L171 516Z"/><path d="M189 520 L189 485 L188 436 L187 380 L186 327 L185 275 L184 219 L183 170 L182 135 L178 135 L178 170 L178 219 L178 275 L179 328 L179 380 L180 436 L180 485 L181 520Z"/><path d="M209 520 L212 487 L215 439 L218 386 L221 335 L225 285 L228 231 L231 183 L232 150 L228 150 L225 183 L221 231 L217 284 L214 335 L210 385 L206 439 L203 486 L201 520Z"/><path d="M229 521 L234 490 L241 446 L249 397 L256 351 L264 304 L271 255 L278 211 L282 180 L278 180 L272 210 L265 254 L256 303 L249 349 L241 396 L233 445 L226 489 L221 519Z"/><path d="M100 240 C62 246 28 288 20 330 C42 302 82 264 100 240Z"/><path d="M95 200 C103 215 126 236 140 250 C136 227 117 203 95 200Z"/><path d="M90 215 C74 216 59 233 55 250 C69 243 86 229 90 215Z"/><path d="M175 175 C147 202 139 259 150 300 C163 264 179 208 175 175Z"/><path d="M185 180 C179 212 193 265 205 300 C217 261 212 206 185 180Z"/><path d="M165 190 C150 224 150 288 160 330 C168 288 174 225 165 190Z"/><path d="M228 200 C205 231 202 289 215 330 C224 292 235 234 228 200Z"/><path d="M238 205 C233 235 245 286 255 320 C265 283 260 231 238 205Z"/><path d="M275 210 C286 232 314 265 330 290 C329 255 306 218 275 210Z"/><path d="M265 225 C247 250 245 297 255 330 C265 299 274 252 265 225Z"/><path d="M280 235 C276 264 289 313 300 345 C306 310 300 260 280 235Z"/><path d="M140 310 C116 340 113 399 125 440 C135 402 146 344 140 310Z"/><path d="M165 320 C158 355 172 416 185 455 C193 412 188 351 165 320Z"/><path d="M150 360 C138 391 150 440 170 470 C169 436 164 386 150 360Z"/><path d="M245 300 C226 332 227 390 240 430 C249 391 256 333 245 300Z"/><path d="M270 320 C270 354 288 412 300 450 C307 407 297 348 270 320Z"/><path d="M260 370 C259 404 277 462 290 500 C296 458 286 398 260 370Z"/><path d="M200 390 C189 421 199 472 215 505 C218 469 215 417 200 390Z"/><path d="M230 420 C206 433 185 470 180 500 C198 478 223 444 230 420Z"/></g><g stroke="#57524c" stroke-width="2.5" fill="none"><path d="M100 240 L20 330"/><path d="M95 200 L140 250"/><path d="M90 215 L55 250"/><path d="M175 175 L150 300"/><path d="M185 180 L205 300"/><path d="M165 190 L160 330"/><path d="M228 200 L215 330"/><path d="M238 205 L255 320"/><path d="M275 210 L330 290"/><path d="M265 225 L255 330"/><path d="M280 235 L300 345"/><path d="M140 310 L125 440"/><path d="M165 320 L185 455"/><path d="M150 360 L170 470"/><path d="M245 300 L240 430"/><path d="M270 320 L300 450"/><path d="M260 370 L290 500"/><path d="M200 390 L215 505"/><path d="M230 420 L180 500"/><path d="M70 170 l-31 -9"/><path d="M70 170 l-24 -23"/><path d="M70 170 l-13 -32"/><path d="M70 170 l2 -35"/><path d="M70 170 l16 -31"/><path d="M70 170 l26 -20"/><path d="M70 175 l0 -37"/><path d="M180 120 l-34 -10"/><path d="M180 120 l-26 -25"/><path d="M180 120 l-14 -35"/><path d="M180 120 l2 -38"/><path d="M180 120 l17 -34"/><path d="M180 120 l29 -22"/><path d="M180 125 l0 -40"/><path d="M235 145 l-29 -9"/><path d="M235 145 l-23 -22"/><path d="M235 145 l-12 -30"/><path d="M235 145 l2 -33"/><path d="M235 145 l15 -29"/><path d="M235 145 l25 -19"/><path d="M235 150 l0 -35"/><path d="M285 175 l-29 -9"/><path d="M285 175 l-23 -22"/><path d="M285 175 l-12 -30"/><path d="M285 175 l2 -33"/><path d="M285 175 l15 -29"/><path d="M285 175 l25 -19"/><path d="M285 180 l0 -35"/></g><path d="M426 60 C440 90 448 150 452 220 C458 320 468 420 470 480 C472 530 450 545 425 545 C395 545 378 525 380 480 C382 400 392 300 398 220 C402 150 410 90 426 60Z" fill="#ece6e0" stroke="#4a4440" stroke-width="4"/><defs><clipPath id="ec426"><path d="M426 60 C440 90 448 150 452 220 C458 320 468 420 470 480 C472 530 450 545 425 545 C395 545 378 525 380 480 C382 400 392 300 398 220 C402 150 410 90 426 60Z"/></clipPath></defs><g clip-path="url(#ec426)"><g stroke="#4a4440" stroke-width="3.5" fill="none" stroke-linejoin="round"><path d="M376 125 L418 95 L438 103 L476 135"/><path d="M416 100 L431 150" stroke-width="3.5"/><path d="M406 136 l-4 8" stroke-width="2.5"/><path d="M454 121 l4 10" stroke-width="2.5"/><path d="M444 141 l3 12" stroke-width="2.5"/><path d="M376 190 L414 158 L434 150 L476 180"/><path d="M436 155 L421 205" stroke-width="3.5"/><path d="M441 194 l-5 10" stroke-width="2.5"/><path d="M417 168 l6 13" stroke-width="2.5"/><path d="M414 177 l-11 13" stroke-width="2.5"/><path d="M376 240 L418 210 L438 218 L476 250"/><path d="M416 215 L431 265" stroke-width="3.5"/><path d="M441 248 l0 9" stroke-width="2.5"/><path d="M404 260 l-10 8" stroke-width="2.5"/><path d="M452 228 l-4 14" stroke-width="2.5"/><path d="M376 310 L414 278 L434 270 L476 300"/><path d="M436 275 L421 325" stroke-width="3.5"/><path d="M438 293 l-7 13" stroke-width="2.5"/><path d="M440 291 l8 10" stroke-width="2.5"/><path d="M452 318 l4 12" stroke-width="2.5"/><path d="M376 365 L418 335 L438 343 L476 375"/><path d="M416 340 L431 390" stroke-width="3.5"/><path d="M401 352 l9 7" stroke-width="2.5"/><path d="M413 366 l-10 12" stroke-width="2.5"/><path d="M452 360 l7 12" stroke-width="2.5"/><path d="M376 440 L414 408 L434 400 L476 430"/><path d="M436 405 L421 455" stroke-width="3.5"/><path d="M447 415 l2 7" stroke-width="2.5"/><path d="M427 433 l-10 6" stroke-width="2.5"/><path d="M417 431 l-12 12" stroke-width="2.5"/><path d="M376 495 L418 465 L438 473 L476 505"/><path d="M416 470 L431 520" stroke-width="3.5"/><path d="M446 498 l-10 7" stroke-width="2.5"/><path d="M442 506 l-6 7" stroke-width="2.5"/><path d="M413 501 l-6 7" stroke-width="2.5"/><path d="M376 565 L414 533 L434 525 L476 555"/><path d="M436 530 L421 580" stroke-width="3.5"/><path d="M443 556 l-0 11" stroke-width="2.5"/><path d="M419 565 l-2 12" stroke-width="2.5"/><path d="M448 554 l-2 6" stroke-width="2.5"/></g></g><path d="M426 60 C440 90 448 150 452 220 C458 320 468 420 470 480 C472 530 450 545 425 545 C395 545 378 525 380 480 C382 400 392 300 398 220 C402 150 410 90 426 60Z" fill="none" stroke="#4a4440" stroke-width="3.5"/></g><g transform="translate(2100 172) scale(0.220690)"><g transform="translate(86 0) scale(0.62 1)"><g stroke="#57524c" stroke-width="4" fill="#fbfaf7" stroke-linejoin="round"><path d="M179 514 L172 484 L162 442 L150 394 L139 349 L128 304 L116 256 L105 214 L97 184 L93 186 L99 215 L109 258 L121 306 L131 351 L142 396 L153 444 L164 486 L171 516Z"/><path d="M189 520 L189 485 L188 436 L187 380 L186 327 L185 275 L184 219 L183 170 L182 135 L178 135 L178 170 L178 219 L178 275 L179 328 L179 380 L180 436 L180 485 L181 520Z"/><path d="M209 520 L212 487 L215 439 L218 386 L221 335 L225 285 L228 231 L231 183 L232 150 L228 150 L225 183 L221 231 L217 284 L214 335 L210 385 L206 439 L203 486 L201 520Z"/><path d="M229 521 L234 490 L241 446 L249 397 L256 351 L264 304 L271 255 L278 211 L282 180 L278 180 L272 210 L265 254 L256 303 L249 349 L241 396 L233 445 L226 489 L221 519Z"/><path d="M100 240 C62 246 28 288 20 330 C42 302 82 264 100 240Z"/><path d="M95 200 C103 215 126 236 140 250 C136 227 117 203 95 200Z"/><path d="M90 215 C74 216 59 233 55 250 C69 243 86 229 90 215Z"/><path d="M175 175 C147 202 139 259 150 300 C163 264 179 208 175 175Z"/><path d="M185 180 C179 212 193 265 205 300 C217 261 212 206 185 180Z"/><path d="M165 190 C150 224 150 288 160 330 C168 288 174 225 165 190Z"/><path d="M228 200 C205 231 202 289 215 330 C224 292 235 234 228 200Z"/><path d="M238 205 C233 235 245 286 255 320 C265 283 260 231 238 205Z"/><path d="M275 210 C286 232 314 265 330 290 C329 255 306 218 275 210Z"/><path d="M265 225 C247 250 245 297 255 330 C265 299 274 252 265 225Z"/><path d="M280 235 C276 264 289 313 300 345 C306 310 300 260 280 235Z"/><path d="M140 310 C116 340 113 399 125 440 C135 402 146 344 140 310Z"/><path d="M165 320 C158 355 172 416 185 455 C193 412 188 351 165 320Z"/><path d="M150 360 C138 391 150 440 170 470 C169 436 164 386 150 360Z"/><path d="M245 300 C226 332 227 390 240 430 C249 391 256 333 245 300Z"/><path d="M270 320 C270 354 288 412 300 450 C307 407 297 348 270 320Z"/><path d="M260 370 C259 404 277 462 290 500 C296 458 286 398 260 370Z"/><path d="M200 390 C189 421 199 472 215 505 C218 469 215 417 200 390Z"/><path d="M230 420 C206 433 185 470 180 500 C198 478 223 444 230 420Z"/></g><g stroke="#57524c" stroke-width="2.5" fill="none"><path d="M100 240 L20 330"/><path d="M95 200 L140 250"/><path d="M90 215 L55 250"/><path d="M175 175 L150 300"/><path d="M185 180 L205 300"/><path d="M165 190 L160 330"/><path d="M228 200 L215 330"/><path d="M238 205 L255 320"/><path d="M275 210 L330 290"/><path d="M265 225 L255 330"/><path d="M280 235 L300 345"/><path d="M140 310 L125 440"/><path d="M165 320 L185 455"/><path d="M150 360 L170 470"/><path d="M245 300 L240 430"/><path d="M270 320 L300 450"/><path d="M260 370 L290 500"/><path d="M200 390 L215 505"/><path d="M230 420 L180 500"/><path d="M70 170 l-31 -9"/><path d="M70 170 l-24 -23"/><path d="M70 170 l-13 -32"/><path d="M70 170 l2 -35"/><path d="M70 170 l16 -31"/><path d="M70 170 l26 -20"/><path d="M70 175 l0 -37"/><path d="M180 120 l-34 -10"/><path d="M180 120 l-26 -25"/><path d="M180 120 l-14 -35"/><path d="M180 120 l2 -38"/><path d="M180 120 l17 -34"/><path d="M180 120 l29 -22"/><path d="M180 125 l0 -40"/><path d="M235 145 l-29 -9"/><path d="M235 145 l-23 -22"/><path d="M235 145 l-12 -30"/><path d="M235 145 l2 -33"/><path d="M235 145 l15 -29"/><path d="M235 145 l25 -19"/><path d="M235 150 l0 -35"/><path d="M285 175 l-29 -9"/><path d="M285 175 l-23 -22"/><path d="M285 175 l-12 -30"/><path d="M285 175 l2 -33"/><path d="M285 175 l15 -29"/><path d="M285 175 l25 -19"/><path d="M285 180 l0 -35"/></g></g><path d="M380 60 C394 90 402 150 406 220 C412 320 422 420 424 480 C426 530 404 545 379 545 C349 545 332 525 334 480 C336 400 346 300 352 220 C356 150 364 90 380 60Z" fill="#c9c2ba" stroke="#3c3733" stroke-width="4"/><defs><clipPath id="ec380"><path d="M380 60 C394 90 402 150 406 220 C412 320 422 420 424 480 C426 530 404 545 379 545 C349 545 332 525 334 480 C336 400 346 300 352 220 C356 150 364 90 380 60Z"/></clipPath></defs><g clip-path="url(#ec380)"><g fill="#77706a"><path d="M354 107 q22 -10 30 20 q-5 25 -28 28 q-18 -20 -2 -48Z"/><path d="M384 162 q22 -10 30 20 q-5 25 -28 28 q-18 -20 -2 -48Z"/><path d="M354 222 q22 -10 30 20 q-5 25 -28 28 q-18 -20 -2 -48Z"/><path d="M384 282 q22 -10 30 20 q-5 25 -28 28 q-18 -20 -2 -48Z"/><path d="M354 347 q22 -10 30 20 q-5 25 -28 28 q-18 -20 -2 -48Z"/><path d="M384 412 q22 -10 30 20 q-5 25 -28 28 q-18 -20 -2 -48Z"/><path d="M354 477 q22 -10 30 20 q-5 25 -28 28 q-18 -20 -2 -48Z"/><path d="M384 537 q22 -10 30 20 q-5 25 -28 28 q-18 -20 -2 -48Z"/></g><g stroke="#3c3733" stroke-width="3.5" fill="none" stroke-linejoin="round"><path d="M330 125 L372 95 L392 103 L430 135"/><path d="M370 100 L385 150" stroke-width="3.5"/><path d="M405 122 l2 10" stroke-width="2.5"/><path d="M401 125 l6 12" stroke-width="2.5"/><path d="M387 119 l-1 12" stroke-width="2.5"/><path d="M330 190 L368 158 L388 150 L430 180"/><path d="M390 155 L375 205" stroke-width="3.5"/><path d="M366 174 l1 12" stroke-width="2.5"/><path d="M405 197 l10 13" stroke-width="2.5"/><path d="M387 195 l-3 13" stroke-width="2.5"/><path d="M330 240 L372 210 L392 218 L430 250"/><path d="M370 215 L385 265" stroke-width="3.5"/><path d="M363 241 l9 6" stroke-width="2.5"/><path d="M371 258 l-3 12" stroke-width="2.5"/><path d="M384 246 l-8 11" stroke-width="2.5"/><path d="M330 310 L368 278 L388 270 L430 300"/><path d="M390 275 L375 325" stroke-width="3.5"/><path d="M381 307 l0 7" stroke-width="2.5"/><path d="M387 312 l8 13" stroke-width="2.5"/><path d="M400 317 l-3 14" stroke-width="2.5"/><path d="M330 365 L372 335 L392 343 L430 375"/><path d="M370 340 L385 390" stroke-width="3.5"/><path d="M399 381 l3 8" stroke-width="2.5"/><path d="M401 372 l4 13" stroke-width="2.5"/><path d="M379 372 l8 13" stroke-width="2.5"/><path d="M330 440 L368 408 L388 400 L430 430"/><path d="M390 405 L375 455" stroke-width="3.5"/><path d="M394 431 l-9 10" stroke-width="2.5"/><path d="M354 421 l-2 11" stroke-width="2.5"/><path d="M386 417 l-12 11" stroke-width="2.5"/><path d="M330 495 L372 465 L392 473 L430 505"/><path d="M370 470 L385 520" stroke-width="3.5"/><path d="M370 490 l1 13" stroke-width="2.5"/><path d="M396 504 l-1 10" stroke-width="2.5"/><path d="M373 500 l-7 12" stroke-width="2.5"/><path d="M330 565 L368 533 L388 525 L430 555"/><path d="M390 530 L375 580" stroke-width="3.5"/><path d="M387 558 l10 6" stroke-width="2.5"/><path d="M384 558 l-10 12" stroke-width="2.5"/><path d="M366 560 l-5 13" stroke-width="2.5"/></g></g><path d="M380 60 C394 90 402 150 406 220 C412 320 422 420 424 480 C426 530 404 545 379 545 C349 545 332 525 334 480 C336 400 346 300 352 220 C356 150 364 90 380 60Z" fill="none" stroke="#3c3733" stroke-width="3.5"/></g><g transform="translate(2236 172) scale(0.220690)"><g stroke="#3f3832" stroke-width="4.5" fill="#faf7f0" stroke-linejoin="round"><path d="M169 525 L169 484 L170 426 L171 361 L172 300 L174 242 L175 181 L176 128 L176 90 L168 90 L165 127 L163 181 L160 241 L158 300 L156 360 L154 425 L152 484 L151 525Z"/><path d="M162 369 L150 362 L132 352 L110 344 L86 342 L68 357 L53 377 L41 396 L34 409 L36 411 L48 401 L63 386 L80 372 L94 368 L106 366 L125 371 L144 377 L158 381Z"/><path d="M171 381 L184 379 L202 376 L220 374 L231 376 L241 380 L254 391 L265 403 L274 411 L276 409 L271 398 L264 383 L254 367 L239 354 L218 353 L198 358 L180 365 L169 369Z"/><path d="M158 245 L149 244 L135 243 L120 245 L103 251 L92 266 L82 285 L74 302 L69 314 L71 316 L80 306 L92 291 L105 277 L117 269 L125 263 L138 260 L150 258 L158 255Z"/><path d="M162 211 L155 206 L144 199 L131 192 L116 192 L107 205 L103 220 L100 235 L99 245 L101 245 L106 236 L112 223 L119 212 L124 208 L128 208 L138 211 L150 216 L158 219Z"/><path d="M166 155 L154 151 L135 145 L115 140 L96 141 L86 153 L83 168 L83 181 L84 190 L86 190 L90 182 L94 171 L99 161 L104 159 L114 158 L132 160 L151 163 L164 165Z"/><path d="M174 145 L186 141 L203 134 L219 129 L225 130 L230 134 L237 150 L242 168 L247 180 L249 180 L249 167 L248 147 L246 127 L235 110 L215 110 L197 119 L180 128 L170 135Z"/><path d="M171 106 L160 101 L142 95 L124 89 L108 87 L98 98 L97 111 L98 122 L99 130 L101 130 L103 123 L106 112 L109 104 L112 103 L122 102 L139 106 L156 111 L169 114Z"/><path d="M178 109 L186 103 L198 95 L209 89 L211 88 L213 91 L218 104 L221 120 L224 130 L226 130 L227 119 L227 103 L227 86 L219 72 L203 74 L190 84 L179 94 L172 101Z"/><path d="M162 117 L156 121 L148 127 L138 136 L132 149 L134 165 L139 183 L145 199 L149 210 L151 210 L150 198 L148 181 L146 164 L148 151 L150 143 L156 136 L163 128 L168 123Z"/><path d="M175 127 L178 132 L182 138 L186 145 L188 152 L192 161 L195 172 L197 183 L199 190 L201 190 L202 182 L203 171 L203 159 L202 148 L196 139 L190 132 L185 126 L181 123Z"/><path d="M148 346 L142 348 L132 351 L121 357 L112 368 L113 383 L118 400 L123 415 L127 425 L129 425 L128 414 L127 398 L126 382 L128 372 L130 367 L137 362 L146 357 L152 354Z"/><path d="M177 352 L181 358 L186 366 L191 374 L193 381 L194 389 L192 401 L190 412 L189 420 L191 420 L195 413 L200 403 L205 391 L207 379 L202 368 L195 359 L188 352 L183 348Z"/><path d="M161 484 L171 482 L184 479 L198 477 L209 478 L219 480 L231 486 L241 492 L249 496 L251 494 L245 488 L236 478 L224 469 L211 462 L196 463 L181 468 L168 473 L159 476Z"/><path d="M160 477 L155 476 L146 474 L137 473 L128 474 L121 480 L115 488 L112 495 L109 499 L111 501 L115 497 L121 492 L127 488 L132 486 L138 484 L146 483 L154 483 L160 483Z"/><path d="M185 240 C230 230 240 300 220 330 C200 320 180 290 185 240Z"/><path d="M195 250 C215 235 235 260 215 330" fill="none"/></g><g stroke="#3f3832" stroke-width="3" fill="none"><path d="M172 85 l-47 -14"/><path d="M172 85 l-39 -25"/><path d="M172 85 l-28 -33"/><path d="M172 85 l-14 -38"/><path d="M172 85 l2 -40"/><path d="M172 85 l17 -38"/><path d="M172 85 l31 -32"/><path d="M172 85 l41 -22"/><path d="M160 520 l-45 15"/><path d="M160 520 l-27 10"/><path d="M160 520 l-9 15"/><path d="M160 520 l9 10"/><path d="M160 520 l27 15"/><path d="M160 520 l45 10"/></g><path d="M360 30 C400 40 420 100 425 200 C432 330 445 470 420 540 C390 555 330 550 315 535 C305 420 320 250 330 120 C335 60 345 35 360 30Z" fill="#efe9df" stroke="#3f3832" stroke-width="5"/><defs><clipPath id="mz"><path d="M360 30 C400 40 420 100 425 200 C432 330 445 470 420 540 C390 555 330 550 315 535 C305 420 320 250 330 120 C335 60 345 35 360 30Z"/></clipPath></defs><g clip-path="url(#mz)"><rect x="300" y="20" width="150" height="540" fill="#9d948a"/><g fill="#f6f2ea"><rect x="334" y="47" width="18" height="14" rx="6"/><rect x="349" y="47" width="18" height="14" rx="6"/><rect x="364" y="47" width="18" height="14" rx="6"/><rect x="378" y="47" width="18" height="14" rx="6"/><rect x="393" y="47" width="18" height="14" rx="6"/><rect x="408" y="47" width="18" height="14" rx="6"/><rect x="343" y="64" width="18" height="14" rx="6"/><rect x="358" y="64" width="18" height="14" rx="6"/><rect x="373" y="64" width="18" height="14" rx="6"/><rect x="389" y="64" width="18" height="14" rx="6"/><rect x="404" y="64" width="18" height="14" rx="6"/><rect x="419" y="64" width="18" height="14" rx="6"/><rect x="332" y="80" width="18" height="14" rx="6"/><rect x="348" y="80" width="18" height="14" rx="6"/><rect x="363" y="80" width="18" height="14" rx="6"/><rect x="379" y="80" width="18" height="14" rx="6"/><rect x="394" y="80" width="18" height="14" rx="6"/><rect x="410" y="80" width="18" height="14" rx="6"/><rect x="341" y="96" width="18" height="14" rx="6"/><rect x="357" y="96" width="18" height="14" rx="6"/><rect x="373" y="96" width="18" height="14" rx="6"/><rect x="389" y="96" width="18" height="14" rx="6"/><rect x="405" y="96" width="18" height="14" rx="6"/><rect x="421" y="96" width="18" height="14" rx="6"/><rect x="330" y="113" width="18" height="14" rx="6"/><rect x="347" y="113" width="18" height="14" rx="6"/><rect x="363" y="113" width="18" height="14" rx="6"/><rect x="379" y="113" width="18" height="14" rx="6"/><rect x="395" y="113" width="18" height="14" rx="6"/><rect x="412" y="113" width="18" height="14" rx="6"/><rect x="339" y="130" width="18" height="14" rx="6"/><rect x="356" y="130" width="18" height="14" rx="6"/><rect x="373" y="130" width="18" height="14" rx="6"/><rect x="389" y="130" width="18" height="14" rx="6"/><rect x="406" y="130" width="18" height="14" rx="6"/><rect x="423" y="130" width="18" height="14" rx="6"/><rect x="329" y="146" width="18" height="14" rx="6"/><rect x="346" y="146" width="18" height="14" rx="6"/><rect x="363" y="146" width="18" height="14" rx="6"/><rect x="379" y="146" width="18" height="14" rx="6"/><rect x="396" y="146" width="18" height="14" rx="6"/><rect x="413" y="146" width="18" height="14" rx="6"/><rect x="338" y="162" width="18" height="14" rx="6"/><rect x="355" y="162" width="18" height="14" rx="6"/><rect x="372" y="162" width="18" height="14" rx="6"/><rect x="390" y="162" width="18" height="14" rx="6"/><rect x="407" y="162" width="18" height="14" rx="6"/><rect x="424" y="162" width="18" height="14" rx="6"/><rect x="327" y="179" width="18" height="14" rx="6"/><rect x="345" y="179" width="18" height="14" rx="6"/><rect x="362" y="179" width="18" height="14" rx="6"/><rect x="380" y="179" width="18" height="14" rx="6"/><rect x="397" y="179" width="18" height="14" rx="6"/><rect x="415" y="179" width="18" height="14" rx="6"/><rect x="336" y="196" width="18" height="14" rx="6"/><rect x="354" y="196" width="18" height="14" rx="6"/><rect x="372" y="196" width="18" height="14" rx="6"/><rect x="390" y="196" width="18" height="14" rx="6"/><rect x="408" y="196" width="18" height="14" rx="6"/><rect x="426" y="196" width="18" height="14" rx="6"/><rect x="325" y="212" width="18" height="14" rx="6"/><rect x="344" y="212" width="18" height="14" rx="6"/><rect x="362" y="212" width="18" height="14" rx="6"/><rect x="380" y="212" width="18" height="14" rx="6"/><rect x="398" y="212" width="18" height="14" rx="6"/><rect x="417" y="212" width="18" height="14" rx="6"/><rect x="335" y="228" width="18" height="14" rx="6"/><rect x="353" y="228" width="18" height="14" rx="6"/><rect x="372" y="228" width="18" height="14" rx="6"/><rect x="390" y="228" width="18" height="14" rx="6"/><rect x="409" y="228" width="18" height="14" rx="6"/><rect x="427" y="228" width="18" height="14" rx="6"/><rect x="324" y="245" width="18" height="14" rx="6"/><rect x="343" y="245" width="18" height="14" rx="6"/><rect x="362" y="245" width="18" height="14" rx="6"/><rect x="380" y="245" width="18" height="14" rx="6"/><rect x="399" y="245" width="18" height="14" rx="6"/><rect x="418" y="245" width="18" height="14" rx="6"/><rect x="333" y="262" width="18" height="14" rx="6"/><rect x="352" y="262" width="18" height="14" rx="6"/><rect x="371" y="262" width="18" height="14" rx="6"/><rect x="391" y="262" width="18" height="14" rx="6"/><rect x="410" y="262" width="18" height="14" rx="6"/><rect x="429" y="262" width="18" height="14" rx="6"/><rect x="322" y="278" width="18" height="14" rx="6"/><rect x="342" y="278" width="18" height="14" rx="6"/><rect x="361" y="278" width="18" height="14" rx="6"/><rect x="381" y="278" width="18" height="14" rx="6"/><rect x="400" y="278" width="18" height="14" rx="6"/><rect x="420" y="278" width="18" height="14" rx="6"/><rect x="331" y="294" width="18" height="14" rx="6"/><rect x="351" y="294" width="18" height="14" rx="6"/><rect x="371" y="294" width="18" height="14" rx="6"/><rect x="391" y="294" width="18" height="14" rx="6"/><rect x="411" y="294" width="18" height="14" rx="6"/><rect x="431" y="294" width="18" height="14" rx="6"/><rect x="320" y="311" width="18" height="14" rx="6"/><rect x="341" y="311" width="18" height="14" rx="6"/><rect x="361" y="311" width="18" height="14" rx="6"/><rect x="381" y="311" width="18" height="14" rx="6"/><rect x="401" y="311" width="18" height="14" rx="6"/><rect x="422" y="311" width="18" height="14" rx="6"/><rect x="330" y="328" width="18" height="14" rx="6"/><rect x="350" y="328" width="18" height="14" rx="6"/><rect x="371" y="328" width="18" height="14" rx="6"/><rect x="391" y="328" width="18" height="14" rx="6"/><rect x="412" y="328" width="18" height="14" rx="6"/><rect x="432" y="328" width="18" height="14" rx="6"/><rect x="319" y="344" width="18" height="14" rx="6"/><rect x="340" y="344" width="18" height="14" rx="6"/><rect x="361" y="344" width="18" height="14" rx="6"/><rect x="381" y="344" width="18" height="14" rx="6"/><rect x="402" y="344" width="18" height="14" rx="6"/><rect x="423" y="344" width="18" height="14" rx="6"/><rect x="328" y="360" width="18" height="14" rx="6"/><rect x="349" y="360" width="18" height="14" rx="6"/><rect x="370" y="360" width="18" height="14" rx="6"/><rect x="392" y="360" width="18" height="14" rx="6"/><rect x="413" y="360" width="18" height="14" rx="6"/><rect x="434" y="360" width="18" height="14" rx="6"/><rect x="317" y="377" width="18" height="14" rx="6"/><rect x="339" y="377" width="18" height="14" rx="6"/><rect x="360" y="377" width="18" height="14" rx="6"/><rect x="382" y="377" width="18" height="14" rx="6"/><rect x="403" y="377" width="18" height="14" rx="6"/><rect x="425" y="377" width="18" height="14" rx="6"/><rect x="326" y="394" width="18" height="14" rx="6"/><rect x="348" y="394" width="18" height="14" rx="6"/><rect x="370" y="394" width="18" height="14" rx="6"/><rect x="392" y="394" width="18" height="14" rx="6"/><rect x="414" y="394" width="18" height="14" rx="6"/><rect x="436" y="394" width="18" height="14" rx="6"/><rect x="315" y="410" width="18" height="14" rx="6"/><rect x="338" y="410" width="18" height="14" rx="6"/><rect x="360" y="410" width="18" height="14" rx="6"/><rect x="382" y="410" width="18" height="14" rx="6"/><rect x="404" y="410" width="18" height="14" rx="6"/><rect x="427" y="410" width="18" height="14" rx="6"/><rect x="325" y="426" width="18" height="14" rx="6"/><rect x="347" y="426" width="18" height="14" rx="6"/><rect x="370" y="426" width="18" height="14" rx="6"/><rect x="392" y="426" width="18" height="14" rx="6"/><rect x="415" y="426" width="18" height="14" rx="6"/><rect x="437" y="426" width="18" height="14" rx="6"/><rect x="314" y="443" width="18" height="14" rx="6"/><rect x="337" y="443" width="18" height="14" rx="6"/><rect x="360" y="443" width="18" height="14" rx="6"/><rect x="382" y="443" width="18" height="14" rx="6"/><rect x="405" y="443" width="18" height="14" rx="6"/><rect x="428" y="443" width="18" height="14" rx="6"/><rect x="323" y="460" width="18" height="14" rx="6"/><rect x="346" y="460" width="18" height="14" rx="6"/><rect x="369" y="460" width="18" height="14" rx="6"/><rect x="393" y="460" width="18" height="14" rx="6"/><rect x="416" y="460" width="18" height="14" rx="6"/><rect x="439" y="460" width="18" height="14" rx="6"/><rect x="312" y="476" width="18" height="14" rx="6"/><rect x="336" y="476" width="18" height="14" rx="6"/><rect x="359" y="476" width="18" height="14" rx="6"/><rect x="383" y="476" width="18" height="14" rx="6"/><rect x="406" y="476" width="18" height="14" rx="6"/><rect x="430" y="476" width="18" height="14" rx="6"/><rect x="321" y="492" width="18" height="14" rx="6"/><rect x="345" y="492" width="18" height="14" rx="6"/><rect x="369" y="492" width="18" height="14" rx="6"/><rect x="393" y="492" width="18" height="14" rx="6"/><rect x="417" y="492" width="18" height="14" rx="6"/><rect x="441" y="492" width="18" height="14" rx="6"/><rect x="310" y="509" width="18" height="14" rx="6"/><rect x="335" y="509" width="18" height="14" rx="6"/><rect x="359" y="509" width="18" height="14" rx="6"/><rect x="383" y="509" width="18" height="14" rx="6"/><rect x="407" y="509" width="18" height="14" rx="6"/><rect x="432" y="509" width="18" height="14" rx="6"/><rect x="320" y="526" width="18" height="14" rx="6"/><rect x="344" y="526" width="18" height="14" rx="6"/><rect x="369" y="526" width="18" height="14" rx="6"/><rect x="393" y="526" width="18" height="14" rx="6"/><rect x="418" y="526" width="18" height="14" rx="6"/><rect x="442" y="526" width="18" height="14" rx="6"/></g></g></g></svg>
<div class="gene"><a>Zm00001eb382830</a>: Phylostratum 14</div>
<div class="bar"><div class="fill"></div></div>
<div class="tk" style="left:527.9px"></div>
<div class="tk" style="left:663.6px"></div>
<div class="tk" style="left:799.3px"></div>
<div class="tk" style="left:935.0px"></div>
<div class="tk" style="left:1070.7px"></div>
<div class="tk" style="left:1206.4px"></div>
<div class="tk" style="left:1342.1px"></div>
<div class="tk" style="left:1477.9px"></div>
<div class="tk" style="left:1613.6px"></div>
<div class="tk" style="left:1749.3px"></div>
<div class="tk" style="left:1885.0px"></div>
<div class="tk" style="left:2020.7px"></div>
<div class="tk" style="left:2156.4px"></div>
<div class="tk" style="left:2292.1px"></div>
<div class="lb" style="left:433.4px;top:422px;height:96px">1:<br>Cellular<br>Organisms</div>
<div class="lb" style="left:569.1px;top:422px;height:96px">2:<br>Domain:<br>Eukaryota</div>
<div class="lb" style="left:704.8px;top:422px;height:96px">3:<br>Kingdom:<br>Viridiplantae</div>
<div class="lb" style="left:840.5px;top:422px;height:96px">4:<br>Phylum:<br>Streptophyta</div>
<div class="lb" style="left:976.2px;top:422px;height:96px">5:<br>Land plants<br>(Embryophyta)</div>
<div class="lb" style="left:1111.9px;top:422px;height:96px">6:<br>Class:<br>Magnoliopsida</div>
<div class="lb" style="left:1247.6px;top:422px;height:96px">7:<br>Monocots<br>(Liliopsida)</div>
<div class="lb" style="left:1383.4px;top:422px;height:96px">8:<br>Order:<br>Poales</div>
<div class="lb" style="left:1519.1px;top:422px;height:96px">9:<br>Family:<br>Poaceae</div>
<div class="lb" style="left:1654.8px;top:422px;height:96px">10:<br>Subfamily:<br>Panicoideae</div>
<div class="lb" style="left:1790.5px;top:422px;height:96px">11:<br>Tribe:<br>Andropogoneae</div>
<div class="lb" style="left:1926.2px;top:422px;height:96px">12:<br>Genus:<br>Zea</div>
<div class="lb" style="left:2061.9px;top:422px;height:128px">13:<br>Species:<br>Zea<br>mays</div>
<div class="lb" style="left:2197.6px;top:422px;height:128px">14:<br>Subspecies:<br>Zea mays<br>mays</div>
</body></html>
